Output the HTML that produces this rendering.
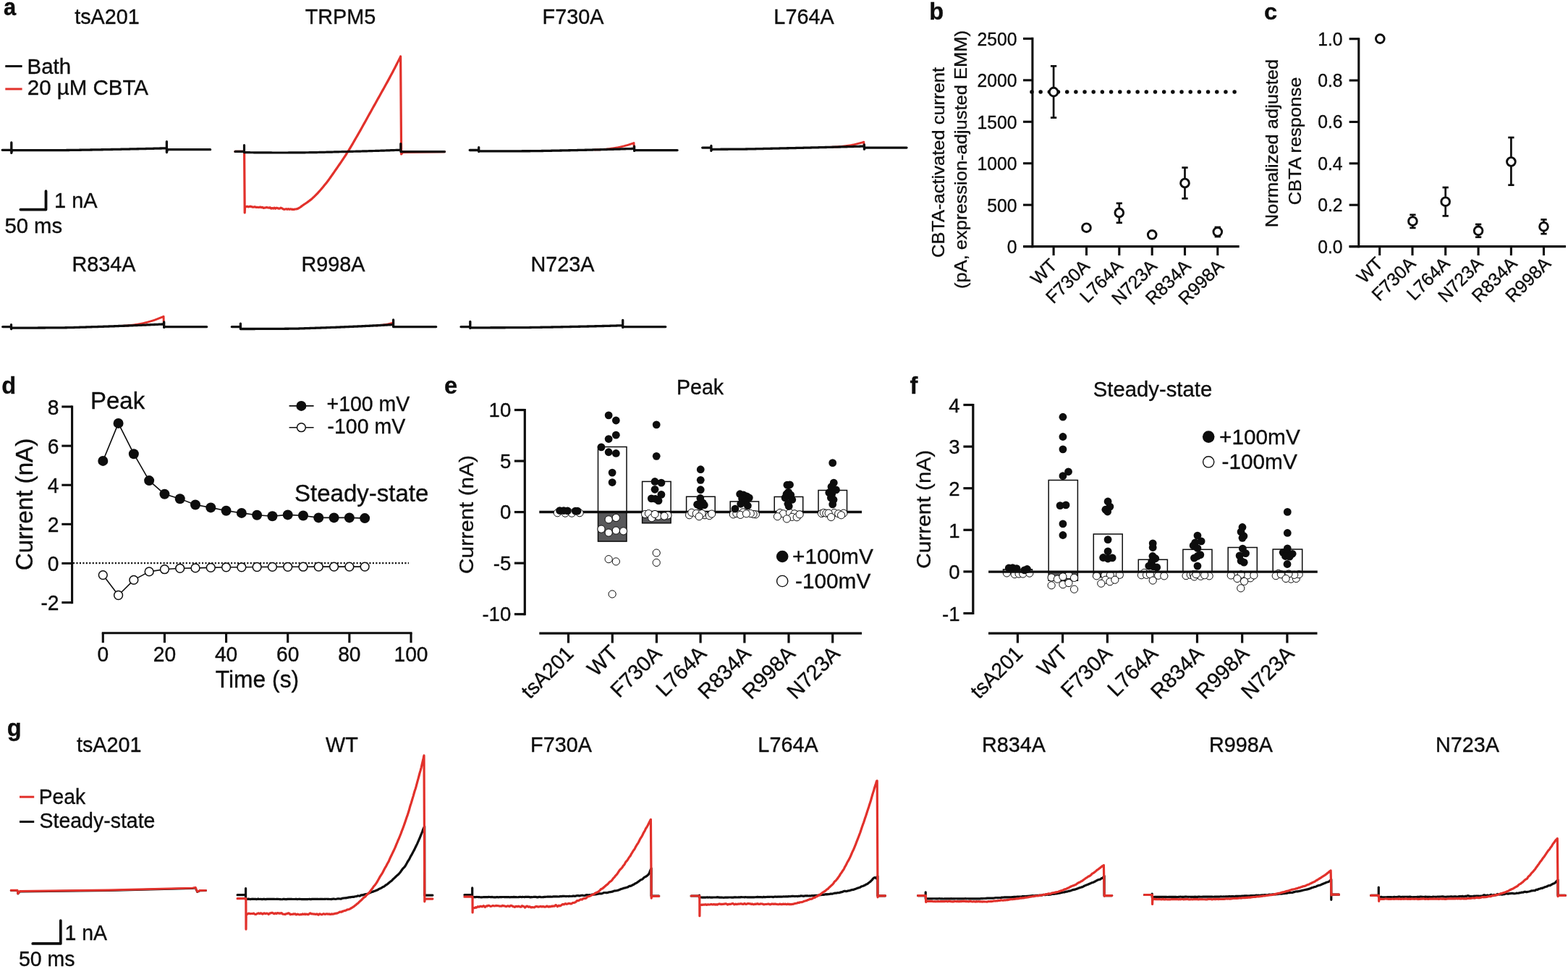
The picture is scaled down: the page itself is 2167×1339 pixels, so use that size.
<!DOCTYPE html>
<html lang="en"><head><meta charset="utf-8"><title>Figure</title>
<style>
html,body{margin:0;padding:0;background:#fff;}
body{width:2167px;height:1339px;overflow:hidden;}
svg{display:block;font-family:'Liberation Sans', sans-serif;fill:#0d0d0d;}
text{stroke:#0d0d0d;stroke-width:0.35px;}
</style></head><body>
<svg width="2167" height="1339" viewBox="0 0 2167 1339">
<g id="panel-a">
<text transform="translate(5 21.3) scale(1 1.07)" font-weight="bold" font-size="30.8">a</text>
<text transform="translate(148 32.7) scale(1 1.02)" text-anchor="middle" font-size="28.8">tsA201</text>
<text transform="translate(470.5 33) scale(1 1.02)" text-anchor="middle" font-size="28.8">TRPM5</text>
<text transform="translate(792 33) scale(1 1.02)" text-anchor="middle" font-size="28.8">F730A</text>
<text transform="translate(1111 33) scale(1 1.02)" text-anchor="middle" font-size="28.8">L764A</text>
<text transform="translate(143.5 375.3) scale(1 1.02)" text-anchor="middle" font-size="28.8">R834A</text>
<text transform="translate(460.5 375.3) scale(1 1.02)" text-anchor="middle" font-size="28.8">R998A</text>
<text transform="translate(777.5 375.3) scale(1 1.02)" text-anchor="middle" font-size="28.8">N723A</text>
<line x1="7.3" y1="91.5" x2="30.6" y2="91.5" stroke="#0d0d0d" stroke-width="3"/>
<text transform="translate(37.6 101.9) scale(1 1.02)" font-size="29.4">Bath</text>
<line x1="7.3" y1="123" x2="30.6" y2="123" stroke="#e2312b" stroke-width="3"/>
<text transform="translate(37.8 131.2) scale(1 1.02)" font-size="29.5">20 µM CBTA</text>
<polyline points="28.4,289.6 63.5,289.6 63.5,264.2" fill="none" stroke="#0d0d0d" stroke-width="3.8" stroke-linejoin="round" stroke-linecap="round"/>
<text transform="translate(75 287.2) scale(1 1.02)" font-size="29">1 nA</text>
<text transform="translate(6.4 321.5) scale(1 1.02)" font-size="29.3">50 ms</text>
<polyline points="3.2,207.3 15.8,207.3 15.8,197 15.8,211.4 16.6,207.7 15.8,207.7 17.3,207.7 18.8,207.7 20.3,207.7 21.8,207.7 23.3,207.7 24.8,207.7 26.3,207.7 27.8,207.7 29.3,207.69 30.8,207.69 32.3,207.69 33.8,207.69 35.3,207.69 36.8,207.69 38.3,207.68 39.8,207.68 41.3,207.68 42.8,207.68 44.3,207.68 45.8,207.67 47.3,207.67 48.8,207.67 50.3,207.66 51.8,207.66 53.3,207.66 54.8,207.65 56.3,207.65 57.8,207.65 59.3,207.64 60.8,207.64 62.3,207.64 63.8,207.63 65.3,207.63 66.8,207.62 68.3,207.62 69.8,207.61 71.3,207.61 72.8,207.6 74.3,207.6 75.8,207.59 77.3,207.59 78.8,207.58 80.3,207.58 81.8,207.57 83.3,207.57 84.8,207.56 86.3,207.56 87.8,207.55 89.3,207.54 90.8,207.53 92.3,207.52 93.8,207.5 95.3,207.48 96.8,207.47 98.3,207.45 99.8,207.42 101.3,207.4 102.8,207.38 104.3,207.36 105.8,207.33 107.3,207.31 108.8,207.28 110.3,207.26 111.8,207.23 113.3,207.21 114.8,207.18 116.3,207.16 117.8,207.13 119.3,207.11 120.8,207.08 122.3,207.06 123.8,207.04 125.3,207.01 126.8,206.99 128.3,206.96 129.8,206.94 131.3,206.91 132.8,206.89 134.3,206.86 135.8,206.83 137.3,206.81 138.8,206.78 140.3,206.76 141.8,206.73 143.3,206.7 144.8,206.68 146.3,206.65 147.8,206.62 149.3,206.59 150.8,206.57 152.3,206.54 153.8,206.51 155.3,206.48 156.8,206.45 158.3,206.43 159.8,206.4 161.3,206.37 162.8,206.34 164.3,206.31 165.8,206.28 167.3,206.25 168.8,206.22 170.3,206.19 171.8,206.16 173.3,206.13 174.8,206.1 176.3,206.06 177.8,206.03 179.3,206 180.8,205.97 182.3,205.94 183.8,205.9 185.3,205.87 186.8,205.84 188.3,205.81 189.8,205.77 191.3,205.74 192.8,205.71 194.3,205.67 195.8,205.64 197.3,205.6 198.8,205.57 200.3,205.53 201.8,205.5 203.3,205.46 204.8,205.43 206.3,205.39 207.8,205.36 209.3,205.32 210.8,205.28 212.3,205.25 213.8,205.21 215.3,205.17 216.8,205.14 218.3,205.1 219.8,205.06 221.3,205.02 222.8,204.98 224.3,204.94 225.8,204.91 227.3,204.87 228.8,204.83 229.8,204.8 230.4,204.8 230.4,195.6 230.4,210.5 231.4,206.7 290.6,206.7" fill="none" stroke="#0d0d0d" stroke-width="3.3" stroke-linejoin="round" stroke-linecap="round"/>
<polyline points="325,209.4 337.6,209.4 338.2,294 338.6,285.42 340.1,285.68 341.6,285.16 343.1,285.92 344.6,285.55 346.1,285.16 347.6,285.62 349.1,286.19 350.6,286.16 352.1,285.65 353.6,286.43 355.1,286.22 356.6,286.49 358.1,286.53 359.6,286.01 361.1,286.68 362.6,286.37 364.1,287.31 365.6,287.05 367.1,286.86 368.6,286.53 370.1,287.03 371.6,287.16 373.1,286.7 374.6,288.16 376.1,287.52 377.6,288.14 379.1,287.11 380.6,288.31 382.1,287.21 383.6,287.59 385.1,288.17 386.6,288.08 388.1,287.22 389.6,287.83 391.1,288.72 392.6,289.36 394.1,289.04 395.6,288.71 397.1,289.29 398.6,288.65 400.1,289.41 401.6,288.74 403.1,289.3 404.6,289.22 406.1,289.53 407.6,288.99 409.1,288.99 410.6,288.67 412.1,288.05 413.6,287.21 415.1,286.21 416.6,285.12 418.1,284.01 419.6,282.96 421.1,281.98 422.6,280.98 424.1,279.95 425.6,278.89 427.1,277.78 428.6,276.62 430.1,275.41 431.6,274.15 433.1,272.82 434.6,271.41 436.1,269.94 437.6,268.4 439.1,266.8 440.6,265.15 442.1,263.45 443.6,261.72 445.1,259.95 446.6,258.15 448.1,256.33 449.6,254.49 451.1,252.63 452.6,250.69 454.1,248.69 455.6,246.64 457.1,244.55 458.6,242.43 460.1,240.28 461.6,238.11 463.1,235.94 464.6,233.78 466.1,231.62 467.6,229.45 469.1,227.27 470.6,225.08 472.1,222.87 473.6,220.64 475.1,218.39 476.6,216.1 478.1,213.78 479.6,211.43 481.1,209.04 482.6,206.6 484.1,204.12 485.6,201.61 487.1,199.07 488.6,196.5 490.1,193.91 491.6,191.31 493.1,188.71 494.6,186.1 496.1,183.48 497.6,180.84 499.1,178.18 500.6,175.5 502.1,172.81 503.6,170.12 505.1,167.41 506.6,164.71 508.1,162.01 509.6,159.32 511.1,156.63 512.6,153.95 514.1,151.26 515.6,148.57 517.1,145.89 518.6,143.2 520.1,140.51 521.6,137.81 523.1,135.12 524.6,132.42 526.1,129.72 527.6,127.04 529.1,124.36 530.6,121.69 532.1,119.01 533.6,116.32 535.1,113.61 536.6,110.89 538.1,108.13 539.6,105.35 541.1,102.53 542.6,99.68 544.1,96.81 545.6,93.92 547.1,91 548.6,88.06 550.1,85.1 551.6,82.11 553.1,79.1 553.4,78.5 553.6,78 554.6,213 556.5,210.5 614.5,209.6" fill="none" stroke="#e2312b" stroke-width="3.2" stroke-linejoin="round" stroke-linecap="round"/>
<polyline points="325,209.4 337.5,209.4 337.5,200.6 337.5,210.6 337.5,210.6 339,210.62 340.5,210.65 342,210.67 343.5,210.69 345,210.71 346.5,210.73 348,210.75 349.5,210.77 351,210.79 352.5,210.81 354,210.82 355.5,210.84 357,210.85 358.5,210.87 360,210.88 361.5,210.89 363,210.9 364.5,210.92 366,210.93 367.5,210.93 369,210.94 370.5,210.95 372,210.96 373.5,210.97 375,210.97 376.5,210.98 378,210.98 379.5,210.99 381,210.99 382.5,210.99 384,211 385.5,211 387,211 388.5,211 390,211 391.5,211 393,211 394.5,210.99 396,210.99 397.5,210.98 399,210.97 400.5,210.97 402,210.96 403.5,210.95 405,210.94 406.5,210.92 408,210.91 409.5,210.9 411,210.89 412.5,210.87 414,210.86 415.5,210.84 417,210.83 418.5,210.81 420,210.8 421.5,210.78 423,210.77 424.5,210.75 426,210.73 427.5,210.71 429,210.69 430.5,210.66 432,210.64 433.5,210.61 435,210.58 436.5,210.56 438,210.53 439.5,210.5 441,210.47 442.5,210.43 444,210.4 445.5,210.37 447,210.33 448.5,210.3 450,210.26 451.5,210.22 453,210.19 454.5,210.15 456,210.11 457.5,210.08 459,210.04 460.5,210 462,209.96 463.5,209.92 465,209.88 466.5,209.84 468,209.8 469.5,209.77 471,209.73 472.5,209.69 474,209.65 475.5,209.61 477,209.57 478.5,209.54 480,209.5 481.5,209.46 483,209.43 484.5,209.39 486,209.35 487.5,209.31 489,209.27 490.5,209.24 492,209.2 493.5,209.16 495,209.12 496.5,209.08 498,209.04 499.5,209 501,208.96 502.5,208.91 504,208.87 505.5,208.83 507,208.79 508.5,208.74 510,208.7 511.5,208.66 513,208.61 514.5,208.57 516,208.52 517.5,208.48 519,208.43 520.5,208.38 522,208.34 523.5,208.29 525,208.24 526.5,208.19 528,208.14 529.5,208.09 531,208.04 532.5,207.99 534,207.94 535.5,207.88 537,207.83 538.5,207.78 540,207.72 541.5,207.67 543,207.61 544.5,207.56 546,207.5 547.5,207.44 549,207.39 550.5,207.33 552,207.27 553.5,207.21 553.8,207.2 553.8,198.6 553.8,209.6 614.5,209.6" fill="none" stroke="#0d0d0d" stroke-width="3.2" stroke-linejoin="round" stroke-linecap="round"/>
<polyline points="822,206.94 824.25,206.87 826.5,206.8 828.75,206.7 831,206.58 833.25,206.43 835.5,206.26 837.75,206.07 840,205.84 842.25,205.59 844.5,205.3 846.75,204.98 849,204.63 851.25,204.25 853.5,203.83 855.75,203.37 858,202.88 860.25,202.36 862.5,201.79 864.75,201.19 867,200.55 869.25,199.88 871.5,199.16 873.75,198.4 876,197.6 876.2,205.4" fill="none" stroke="#e2312b" stroke-width="2.9" stroke-linejoin="round" stroke-linecap="round"/>
<polyline points="649.2,207.5 661.7,207.5 661.7,203.6 661.7,209.6 662.5,208.9 661.7,208.9 663.2,208.9 664.7,208.9 666.2,208.9 667.7,208.9 669.2,208.9 670.7,208.9 672.2,208.9 673.7,208.89 675.2,208.89 676.7,208.89 678.2,208.89 679.7,208.89 681.2,208.89 682.7,208.88 684.2,208.88 685.7,208.88 687.2,208.88 688.7,208.87 690.2,208.87 691.7,208.87 693.2,208.86 694.7,208.86 696.2,208.86 697.7,208.85 699.2,208.85 700.7,208.84 702.2,208.84 703.7,208.84 705.2,208.83 706.7,208.83 708.2,208.82 709.7,208.82 711.2,208.81 712.7,208.81 714.2,208.8 715.7,208.8 717.2,208.79 718.7,208.78 720.2,208.78 721.7,208.77 723.2,208.77 724.7,208.76 726.2,208.75 727.7,208.75 729.2,208.74 730.7,208.73 732.2,208.73 733.7,208.72 735.2,208.71 736.7,208.69 738.2,208.68 739.7,208.66 741.2,208.64 742.7,208.62 744.2,208.59 745.7,208.57 747.2,208.54 748.7,208.52 750.2,208.49 751.7,208.46 753.2,208.43 754.7,208.4 756.2,208.37 757.7,208.34 759.2,208.31 760.7,208.28 762.2,208.25 763.7,208.22 765.2,208.19 766.7,208.16 768.2,208.13 769.7,208.1 771.2,208.07 772.7,208.04 774.2,208.01 775.7,207.98 777.2,207.95 778.7,207.92 780.2,207.89 781.7,207.86 783.2,207.83 784.7,207.8 786.2,207.76 787.7,207.73 789.2,207.7 790.7,207.67 792.2,207.64 793.7,207.6 795.2,207.57 796.7,207.54 798.2,207.5 799.7,207.47 801.2,207.43 802.7,207.4 804.2,207.37 805.7,207.33 807.2,207.3 808.7,207.26 810.2,207.23 811.7,207.19 813.2,207.15 814.7,207.12 816.2,207.08 817.7,207.04 819.2,207.01 820.7,206.97 822.2,206.93 823.7,206.89 825.2,206.86 826.7,206.82 828.2,206.78 829.7,206.74 831.2,206.7 832.7,206.66 834.2,206.62 835.7,206.58 837.2,206.54 838.7,206.5 840.2,206.46 841.7,206.42 843.2,206.38 844.7,206.34 846.2,206.29 847.7,206.25 849.2,206.21 850.7,206.17 852.2,206.12 853.7,206.08 855.2,206.04 856.7,205.99 858.2,205.95 859.7,205.9 861.2,205.86 862.7,205.81 864.2,205.77 865.7,205.72 867.2,205.68 868.7,205.63 870.2,205.58 871.7,205.54 873.2,205.49 874.7,205.44 876,205.4 876.6,205.4 876.6,202.2 876.6,208.4 877.6,207.6 936.1,207.6" fill="none" stroke="#0d0d0d" stroke-width="3.3" stroke-linejoin="round" stroke-linecap="round"/>
<polyline points="1147,203.35 1148.95,203.3 1150.9,203.24 1152.85,203.16 1154.8,203.06 1156.75,202.94 1158.7,202.81 1160.65,202.66 1162.6,202.48 1164.55,202.28 1166.5,202.06 1168.45,201.81 1170.4,201.55 1172.35,201.25 1174.3,200.93 1176.25,200.58 1178.2,200.21 1180.15,199.81 1182.1,199.38 1184.05,198.92 1186,198.44 1187.95,197.92 1189.9,197.38 1191.85,196.81 1193.8,196.2 1194,202.1" fill="none" stroke="#e2312b" stroke-width="2.9" stroke-linejoin="round" stroke-linecap="round"/>
<polyline points="970.7,204.1 982.9,204.1 982.9,201.4 982.9,208.4 983.7,206.3 982.9,206.3 984.4,206.3 985.9,206.3 987.4,206.3 988.9,206.29 990.4,206.29 991.9,206.29 993.4,206.28 994.9,206.28 996.4,206.27 997.9,206.27 999.4,206.26 1000.9,206.25 1002.4,206.25 1003.9,206.24 1005.4,206.23 1006.9,206.22 1008.4,206.21 1009.9,206.2 1011.4,206.19 1012.9,206.18 1014.4,206.17 1015.9,206.16 1017.4,206.15 1018.9,206.14 1020.4,206.13 1021.9,206.12 1023.4,206.1 1024.9,206.09 1026.4,206.08 1027.9,206.06 1029.4,206.04 1030.9,206.02 1032.4,206 1033.9,205.97 1035.4,205.94 1036.9,205.91 1038.4,205.88 1039.9,205.85 1041.4,205.82 1042.9,205.78 1044.4,205.75 1045.9,205.71 1047.4,205.68 1048.9,205.64 1050.4,205.6 1051.9,205.57 1053.4,205.53 1054.9,205.5 1056.4,205.47 1057.9,205.43 1059.4,205.4 1060.9,205.37 1062.4,205.34 1063.9,205.3 1065.4,205.27 1066.9,205.24 1068.4,205.21 1069.9,205.17 1071.4,205.14 1072.9,205.11 1074.4,205.07 1075.9,205.04 1077.4,205.01 1078.9,204.97 1080.4,204.94 1081.9,204.91 1083.4,204.87 1084.9,204.84 1086.4,204.81 1087.9,204.77 1089.4,204.74 1090.9,204.7 1092.4,204.67 1093.9,204.64 1095.4,204.6 1096.9,204.57 1098.4,204.53 1099.9,204.5 1101.4,204.46 1102.9,204.43 1104.4,204.39 1105.9,204.36 1107.4,204.32 1108.9,204.29 1110.4,204.25 1111.9,204.22 1113.4,204.18 1114.9,204.14 1116.4,204.11 1117.9,204.07 1119.4,204.04 1120.9,204 1122.4,203.96 1123.9,203.93 1125.4,203.89 1126.9,203.86 1128.4,203.82 1129.9,203.78 1131.4,203.75 1132.9,203.71 1134.4,203.67 1135.9,203.63 1137.4,203.6 1138.9,203.56 1140.4,203.52 1141.9,203.48 1143.4,203.45 1144.9,203.41 1146.4,203.37 1147.9,203.33 1149.4,203.29 1150.9,203.25 1152.4,203.22 1153.9,203.18 1155.4,203.14 1156.9,203.1 1158.4,203.06 1159.9,203.02 1161.4,202.98 1162.9,202.94 1164.4,202.9 1165.9,202.86 1167.4,202.82 1168.9,202.78 1170.4,202.74 1171.9,202.7 1173.4,202.66 1174.9,202.62 1176.4,202.58 1177.9,202.54 1179.4,202.5 1180.9,202.46 1182.4,202.42 1183.9,202.38 1185.4,202.33 1186.9,202.29 1188.4,202.25 1189.9,202.21 1191.4,202.17 1192.9,202.13 1193.8,202.1 1194.4,202.1 1194.4,200 1194.4,206.2 1195.4,204.1 1253,204.1" fill="none" stroke="#0d0d0d" stroke-width="3.3" stroke-linejoin="round" stroke-linecap="round"/>
<polyline points="165,450.48 167.55,450.38 170.09,450.26 172.64,450.11 175.18,449.93 177.73,449.72 180.28,449.47 182.82,449.18 185.37,448.85 187.91,448.49 190.46,448.08 193,447.63 195.55,447.13 198.1,446.59 200.64,446 203.19,445.36 205.73,444.67 208.28,443.93 210.82,443.14 213.37,442.3 215.92,441.41 218.46,440.47 221.01,439.47 223.55,438.41 226.1,437.3 226.3,447.9" fill="none" stroke="#e2312b" stroke-width="2.9" stroke-linejoin="round" stroke-linecap="round"/>
<polyline points="3.7,451.6 15.5,451.6 15.5,448.6 15.5,454.6 16.3,453.1 15.5,453.1 17,453.1 18.5,453.1 20,453.1 21.5,453.1 23,453.1 24.5,453.1 26,453.09 27.5,453.09 29,453.09 30.5,453.09 32,453.08 33.5,453.08 35,453.08 36.5,453.07 38,453.07 39.5,453.07 41,453.06 42.5,453.06 44,453.05 45.5,453.05 47,453.04 48.5,453.04 50,453.03 51.5,453.03 53,453.02 54.5,453.01 56,453.01 57.5,453 59,452.99 60.5,452.99 62,452.98 63.5,452.97 65,452.96 66.5,452.96 68,452.95 69.5,452.94 71,452.93 72.5,452.92 74,452.91 75.5,452.9 77,452.89 78.5,452.88 80,452.87 81.5,452.86 83,452.85 84.5,452.84 86,452.83 87.5,452.82 89,452.8 90.5,452.77 92,452.75 93.5,452.72 95,452.68 96.5,452.65 98,452.61 99.5,452.57 101,452.53 102.5,452.49 104,452.44 105.5,452.4 107,452.35 108.5,452.31 110,452.26 111.5,452.21 113,452.17 114.5,452.12 116,452.08 117.5,452.03 119,451.99 120.5,451.95 122,451.9 123.5,451.86 125,451.81 126.5,451.77 128,451.72 129.5,451.68 131,451.63 132.5,451.58 134,451.54 135.5,451.49 137,451.44 138.5,451.39 140,451.34 141.5,451.3 143,451.25 144.5,451.2 146,451.15 147.5,451.1 149,451.05 150.5,451 152,450.94 153.5,450.89 155,450.84 156.5,450.79 158,450.73 159.5,450.68 161,450.63 162.5,450.57 164,450.52 165.5,450.46 167,450.41 168.5,450.35 170,450.3 171.5,450.24 173,450.18 174.5,450.13 176,450.07 177.5,450.01 179,449.95 180.5,449.89 182,449.83 183.5,449.78 185,449.72 186.5,449.65 188,449.59 189.5,449.53 191,449.47 192.5,449.41 194,449.35 195.5,449.28 197,449.22 198.5,449.16 200,449.09 201.5,449.03 203,448.96 204.5,448.9 206,448.83 207.5,448.76 209,448.7 210.5,448.63 212,448.56 213.5,448.49 215,448.42 216.5,448.35 218,448.28 219.5,448.21 221,448.14 222.5,448.07 224,448 225.5,447.93 226.1,447.9 226.7,447.9 226.7,445 226.7,452.4 227.7,451.6 285.7,451.6" fill="none" stroke="#0d0d0d" stroke-width="3.3" stroke-linejoin="round" stroke-linecap="round"/>
<polyline points="520,449.8 520.96,449.75 521.92,449.7 522.88,449.64 523.83,449.57 524.79,449.49 525.75,449.41 526.71,449.32 527.67,449.22 528.62,449.11 529.58,448.99 530.54,448.87 531.5,448.73 532.46,448.58 533.42,448.42 534.38,448.25 535.33,448.07 536.29,447.88 537.25,447.67 538.21,447.46 539.17,447.23 540.12,446.99 541.08,446.74 542.04,446.48 543,446.2 543.2,448.6" fill="none" stroke="#e2312b" stroke-width="2.9" stroke-linejoin="round" stroke-linecap="round"/>
<polyline points="320.3,451.6 332.4,451.6 332.4,447.2 332.4,454.6 333.2,454.5 332.4,454.5 333.9,454.5 335.4,454.5 336.9,454.5 338.4,454.5 339.9,454.5 341.4,454.49 342.9,454.49 344.4,454.49 345.9,454.49 347.4,454.49 348.9,454.48 350.4,454.48 351.9,454.48 353.4,454.47 354.9,454.47 356.4,454.46 357.9,454.46 359.4,454.45 360.9,454.45 362.4,454.44 363.9,454.44 365.4,454.43 366.9,454.42 368.4,454.42 369.9,454.41 371.4,454.4 372.9,454.4 374.4,454.39 375.9,454.38 377.4,454.37 378.9,454.36 380.4,454.36 381.9,454.35 383.4,454.34 384.9,454.33 386.4,454.32 387.9,454.31 389.4,454.3 390.9,454.29 392.4,454.28 393.9,454.27 395.4,454.26 396.9,454.24 398.4,454.23 399.9,454.22 401.4,454.21 402.9,454.2 404.4,454.18 405.9,454.16 407.4,454.13 408.9,454.1 410.4,454.06 411.9,454.03 413.4,453.99 414.9,453.95 416.4,453.9 417.9,453.85 419.4,453.8 420.9,453.75 422.4,453.7 423.9,453.65 425.4,453.6 426.9,453.55 428.4,453.49 429.9,453.44 431.4,453.39 432.9,453.34 434.4,453.29 435.9,453.24 437.4,453.19 438.9,453.14 440.4,453.09 441.9,453.04 443.4,452.99 444.9,452.94 446.4,452.88 447.9,452.83 449.4,452.78 450.9,452.73 452.4,452.67 453.9,452.62 455.4,452.56 456.9,452.51 458.4,452.45 459.9,452.4 461.4,452.34 462.9,452.28 464.4,452.23 465.9,452.17 467.4,452.11 468.9,452.05 470.4,451.99 471.9,451.94 473.4,451.88 474.9,451.82 476.4,451.76 477.9,451.69 479.4,451.63 480.9,451.57 482.4,451.51 483.9,451.45 485.4,451.38 486.9,451.32 488.4,451.26 489.9,451.19 491.4,451.13 492.9,451.06 494.4,451 495.9,450.93 497.4,450.86 498.9,450.8 500.4,450.73 501.9,450.66 503.4,450.59 504.9,450.52 506.4,450.45 507.9,450.38 509.4,450.31 510.9,450.24 512.4,450.17 513.9,450.1 515.4,450.02 516.9,449.95 518.4,449.88 519.9,449.8 521.4,449.73 522.9,449.65 524.4,449.58 525.9,449.5 527.4,449.43 528.9,449.35 530.4,449.27 531.9,449.19 533.4,449.12 534.9,449.04 536.4,448.96 537.9,448.88 539.4,448.8 540.9,448.71 542.4,448.63 543,448.6 543.6,448.6 543.6,442 543.6,451.6 544.6,451.6 602.7,451.6" fill="none" stroke="#0d0d0d" stroke-width="3.3" stroke-linejoin="round" stroke-linecap="round"/>
<polyline points="637,451.6 649.8,451.6 649.8,444.3 649.8,453.5 650.6,452.8 649.8,452.8 651.3,452.8 652.8,452.8 654.3,452.8 655.8,452.8 657.3,452.8 658.8,452.8 660.3,452.8 661.8,452.8 663.3,452.79 664.8,452.79 666.3,452.79 667.8,452.79 669.3,452.79 670.8,452.79 672.3,452.78 673.8,452.78 675.3,452.78 676.8,452.78 678.3,452.77 679.8,452.77 681.3,452.77 682.8,452.76 684.3,452.76 685.8,452.76 687.3,452.75 688.8,452.75 690.3,452.75 691.8,452.74 693.3,452.74 694.8,452.74 696.3,452.73 697.8,452.73 699.3,452.72 700.8,452.72 702.3,452.71 703.8,452.71 705.3,452.7 706.8,452.7 708.3,452.69 709.8,452.69 711.3,452.68 712.8,452.68 714.3,452.67 715.8,452.66 717.3,452.66 718.8,452.65 720.3,452.64 721.8,452.64 723.3,452.62 724.8,452.61 726.3,452.59 727.8,452.58 729.3,452.56 730.8,452.54 732.3,452.52 733.8,452.49 735.3,452.47 736.8,452.44 738.3,452.42 739.8,452.39 741.3,452.37 742.8,452.34 744.3,452.31 745.8,452.29 747.3,452.26 748.8,452.23 750.3,452.21 751.8,452.18 753.3,452.16 754.8,452.13 756.3,452.11 757.8,452.08 759.3,452.05 760.8,452.03 762.3,452 763.8,451.98 765.3,451.95 766.8,451.92 768.3,451.89 769.8,451.87 771.3,451.84 772.8,451.81 774.3,451.78 775.8,451.76 777.3,451.73 778.8,451.7 780.3,451.67 781.8,451.64 783.3,451.61 784.8,451.58 786.3,451.55 787.8,451.52 789.3,451.49 790.8,451.46 792.3,451.43 793.8,451.4 795.3,451.37 796.8,451.34 798.3,451.31 799.8,451.27 801.3,451.24 802.8,451.21 804.3,451.18 805.8,451.15 807.3,451.11 808.8,451.08 810.3,451.05 811.8,451.01 813.3,450.98 814.8,450.95 816.3,450.91 817.8,450.88 819.3,450.84 820.8,450.81 822.3,450.77 823.8,450.74 825.3,450.7 826.8,450.66 828.3,450.63 829.8,450.59 831.3,450.55 832.8,450.52 834.3,450.48 835.8,450.44 837.3,450.41 838.8,450.37 840.3,450.33 841.8,450.29 843.3,450.25 844.8,450.21 846.3,450.17 847.8,450.13 849.3,450.09 850.8,450.05 852.3,450.01 853.8,449.97 855.3,449.93 856.8,449.89 858.3,449.85 859.8,449.81 860.1,449.8 860.7,449.8 860.7,442.3 860.7,452.4 861.7,451.6 919.8,451.6" fill="none" stroke="#0d0d0d" stroke-width="3.3" stroke-linejoin="round" stroke-linecap="round"/>
</g>
<g id="panel-b">
<text transform="translate(1284.3 27) scale(1 1.02)" font-weight="bold" font-size="32.6">b</text>
<line x1="1426.9" y1="51.85" x2="1426.9" y2="342.15" stroke="#0d0d0d" stroke-width="3.1"/>
<line x1="1414" y1="340.6" x2="1712.7" y2="340.6" stroke="#0d0d0d" stroke-width="3.1"/>
<line x1="1414" y1="53.4" x2="1426.9" y2="53.4" stroke="#0d0d0d" stroke-width="3.1"/>
<text transform="translate(1405.5 62.8) scale(1 1.02)" text-anchor="end" font-size="24.7">2500</text>
<line x1="1414" y1="110.84" x2="1426.9" y2="110.84" stroke="#0d0d0d" stroke-width="3.1"/>
<text transform="translate(1405.5 120.24) scale(1 1.02)" text-anchor="end" font-size="24.7">2000</text>
<line x1="1414" y1="168.28" x2="1426.9" y2="168.28" stroke="#0d0d0d" stroke-width="3.1"/>
<text transform="translate(1405.5 177.68) scale(1 1.02)" text-anchor="end" font-size="24.7">1500</text>
<line x1="1414" y1="225.72" x2="1426.9" y2="225.72" stroke="#0d0d0d" stroke-width="3.1"/>
<text transform="translate(1405.5 235.12) scale(1 1.02)" text-anchor="end" font-size="24.7">1000</text>
<line x1="1414" y1="283.16" x2="1426.9" y2="283.16" stroke="#0d0d0d" stroke-width="3.1"/>
<text transform="translate(1405.5 292.56) scale(1 1.02)" text-anchor="end" font-size="24.7">500</text>
<line x1="1414" y1="340.6" x2="1426.9" y2="340.6" stroke="#0d0d0d" stroke-width="3.1"/>
<text transform="translate(1405.5 350) scale(1 1.02)" text-anchor="end" font-size="24.7">0</text>
<line x1="1456.1" y1="340.6" x2="1456.1" y2="353" stroke="#0d0d0d" stroke-width="3.1"/>
<text transform="translate(1462.1 368) rotate(-45) scale(1 1.02)" text-anchor="end" font-size="24.8">WT</text>
<line x1="1501.5" y1="340.6" x2="1501.5" y2="353" stroke="#0d0d0d" stroke-width="3.1"/>
<text transform="translate(1507.5 369.2) rotate(-45) scale(1 1.02)" text-anchor="end" font-size="24.8">F730A</text>
<line x1="1546.8" y1="340.6" x2="1546.8" y2="353" stroke="#0d0d0d" stroke-width="3.1"/>
<text transform="translate(1553.5 369.2) rotate(-45) scale(1 1.02)" text-anchor="end" font-size="24.8">L764A</text>
<line x1="1592.2" y1="340.6" x2="1592.2" y2="353" stroke="#0d0d0d" stroke-width="3.1"/>
<text transform="translate(1600.4 369.2) rotate(-45) scale(1 1.02)" text-anchor="end" font-size="24.8">N723A</text>
<line x1="1637.5" y1="340.6" x2="1637.5" y2="353" stroke="#0d0d0d" stroke-width="3.1"/>
<text transform="translate(1647.2 369.2) rotate(-45) scale(1 1.02)" text-anchor="end" font-size="24.8">R834A</text>
<line x1="1682.8" y1="340.6" x2="1682.8" y2="353" stroke="#0d0d0d" stroke-width="3.1"/>
<text transform="translate(1692.7 369.2) rotate(-45) scale(1 1.02)" text-anchor="end" font-size="24.8">R998A</text>
<line x1="1425.97" y1="127.1" x2="1709" y2="127.1" stroke="#0d0d0d" stroke-width="5.5" stroke-linecap="round" stroke-dasharray="0 12.18"/>
<line x1="1456.1" y1="91.3" x2="1456.1" y2="162.6" stroke="#0d0d0d" stroke-width="2.7"/>
<line x1="1451.95" y1="91.3" x2="1460.25" y2="91.3" stroke="#0d0d0d" stroke-width="2.7"/>
<line x1="1451.95" y1="162.6" x2="1460.25" y2="162.6" stroke="#0d0d0d" stroke-width="2.7"/>
<circle cx="1456.1" cy="127.1" r="5.85" fill="#fff" stroke="#0d0d0d" stroke-width="2.9"/>
<circle cx="1501.5" cy="314.7" r="5.85" fill="#fff" stroke="#0d0d0d" stroke-width="2.9"/>
<line x1="1546.8" y1="280.9" x2="1546.8" y2="307.8" stroke="#0d0d0d" stroke-width="2.7"/>
<line x1="1542.65" y1="280.9" x2="1550.95" y2="280.9" stroke="#0d0d0d" stroke-width="2.7"/>
<line x1="1542.65" y1="307.8" x2="1550.95" y2="307.8" stroke="#0d0d0d" stroke-width="2.7"/>
<circle cx="1546.8" cy="294" r="5.85" fill="#fff" stroke="#0d0d0d" stroke-width="2.9"/>
<line x1="1592.2" y1="319.5" x2="1592.2" y2="329" stroke="#0d0d0d" stroke-width="2.7"/>
<line x1="1588.05" y1="319.5" x2="1596.35" y2="319.5" stroke="#0d0d0d" stroke-width="2.7"/>
<line x1="1588.05" y1="329" x2="1596.35" y2="329" stroke="#0d0d0d" stroke-width="2.7"/>
<circle cx="1592.2" cy="324.3" r="5.85" fill="#fff" stroke="#0d0d0d" stroke-width="2.9"/>
<line x1="1637.5" y1="231.6" x2="1637.5" y2="274.3" stroke="#0d0d0d" stroke-width="2.7"/>
<line x1="1633.35" y1="231.6" x2="1641.65" y2="231.6" stroke="#0d0d0d" stroke-width="2.7"/>
<line x1="1633.35" y1="274.3" x2="1641.65" y2="274.3" stroke="#0d0d0d" stroke-width="2.7"/>
<circle cx="1637.5" cy="253" r="5.85" fill="#fff" stroke="#0d0d0d" stroke-width="2.9"/>
<line x1="1682.8" y1="314" x2="1682.8" y2="327" stroke="#0d0d0d" stroke-width="2.7"/>
<line x1="1678.65" y1="314" x2="1686.95" y2="314" stroke="#0d0d0d" stroke-width="2.7"/>
<line x1="1678.65" y1="327" x2="1686.95" y2="327" stroke="#0d0d0d" stroke-width="2.7"/>
<circle cx="1682.8" cy="320.3" r="5.85" fill="#fff" stroke="#0d0d0d" stroke-width="2.9"/>
<text transform="translate(1304.7 224.5) rotate(-90) scale(1 0.94)" text-anchor="middle" font-size="25.5">CBTA-activated current</text>
<text transform="translate(1336.2 220.5) rotate(-90) scale(1 0.94)" text-anchor="middle" font-size="25.5">(pA, expression-adjusted EMM)</text>
</g>
<g id="panel-c">
<text transform="translate(1747 27) scale(1 0.95)" font-weight="bold" font-size="32.6">c</text>
<line x1="1877.8" y1="52.15" x2="1877.8" y2="342.15" stroke="#0d0d0d" stroke-width="3.1"/>
<line x1="1864.6" y1="340.6" x2="2164" y2="340.6" stroke="#0d0d0d" stroke-width="3.1"/>
<line x1="1864.6" y1="53.7" x2="1877.8" y2="53.7" stroke="#0d0d0d" stroke-width="3.1"/>
<text transform="translate(1855.5 62.7) scale(1 1.02)" text-anchor="end" font-size="24.7">1.0</text>
<line x1="1864.6" y1="111.08" x2="1877.8" y2="111.08" stroke="#0d0d0d" stroke-width="3.1"/>
<text transform="translate(1855.5 120.08) scale(1 1.02)" text-anchor="end" font-size="24.7">0.8</text>
<line x1="1864.6" y1="168.46" x2="1877.8" y2="168.46" stroke="#0d0d0d" stroke-width="3.1"/>
<text transform="translate(1855.5 177.46) scale(1 1.02)" text-anchor="end" font-size="24.7">0.6</text>
<line x1="1864.6" y1="225.84" x2="1877.8" y2="225.84" stroke="#0d0d0d" stroke-width="3.1"/>
<text transform="translate(1855.5 234.84) scale(1 1.02)" text-anchor="end" font-size="24.7">0.4</text>
<line x1="1864.6" y1="283.22" x2="1877.8" y2="283.22" stroke="#0d0d0d" stroke-width="3.1"/>
<text transform="translate(1855.5 292.22) scale(1 1.02)" text-anchor="end" font-size="24.7">0.2</text>
<line x1="1864.6" y1="340.6" x2="1877.8" y2="340.6" stroke="#0d0d0d" stroke-width="3.1"/>
<text transform="translate(1855.5 349.6) scale(1 1.02)" text-anchor="end" font-size="24.7">0.0</text>
<line x1="1906.7" y1="340.6" x2="1906.7" y2="353" stroke="#0d0d0d" stroke-width="3.1"/>
<text transform="translate(1912.7 365.7) rotate(-45) scale(1 1.02)" text-anchor="end" font-size="24.8">WT</text>
<line x1="1952" y1="340.6" x2="1952" y2="353" stroke="#0d0d0d" stroke-width="3.1"/>
<text transform="translate(1958 365.7) rotate(-45) scale(1 1.02)" text-anchor="end" font-size="24.8">F730A</text>
<line x1="1997.7" y1="340.6" x2="1997.7" y2="353" stroke="#0d0d0d" stroke-width="3.1"/>
<text transform="translate(2005.2 365.7) rotate(-45) scale(1 1.02)" text-anchor="end" font-size="24.8">L764A</text>
<line x1="2043.1" y1="340.6" x2="2043.1" y2="353" stroke="#0d0d0d" stroke-width="3.1"/>
<text transform="translate(2051.3 365.7) rotate(-45) scale(1 1.02)" text-anchor="end" font-size="24.8">N723A</text>
<line x1="2088.4" y1="340.6" x2="2088.4" y2="353" stroke="#0d0d0d" stroke-width="3.1"/>
<text transform="translate(2098.1 365.7) rotate(-45) scale(1 1.02)" text-anchor="end" font-size="24.8">R834A</text>
<line x1="2133.5" y1="340.6" x2="2133.5" y2="353" stroke="#0d0d0d" stroke-width="3.1"/>
<text transform="translate(2144.7 365.7) rotate(-45) scale(1 1.02)" text-anchor="end" font-size="24.8">R998A</text>
<circle cx="1907.3" cy="53.6" r="5.85" fill="#fff" stroke="#0d0d0d" stroke-width="2.9"/>
<line x1="1952.4" y1="296.8" x2="1952.4" y2="314.9" stroke="#0d0d0d" stroke-width="2.7"/>
<line x1="1948.25" y1="296.8" x2="1956.55" y2="296.8" stroke="#0d0d0d" stroke-width="2.7"/>
<line x1="1948.25" y1="314.9" x2="1956.55" y2="314.9" stroke="#0d0d0d" stroke-width="2.7"/>
<circle cx="1952.4" cy="305.7" r="5.85" fill="#fff" stroke="#0d0d0d" stroke-width="2.9"/>
<line x1="1997.7" y1="259" x2="1997.7" y2="298.4" stroke="#0d0d0d" stroke-width="2.7"/>
<line x1="1993.55" y1="259" x2="2001.85" y2="259" stroke="#0d0d0d" stroke-width="2.7"/>
<line x1="1993.55" y1="298.4" x2="2001.85" y2="298.4" stroke="#0d0d0d" stroke-width="2.7"/>
<circle cx="1997.7" cy="278.7" r="5.85" fill="#fff" stroke="#0d0d0d" stroke-width="2.9"/>
<line x1="2043.1" y1="310" x2="2043.1" y2="327.7" stroke="#0d0d0d" stroke-width="2.7"/>
<line x1="2038.95" y1="310" x2="2047.25" y2="310" stroke="#0d0d0d" stroke-width="2.7"/>
<line x1="2038.95" y1="327.7" x2="2047.25" y2="327.7" stroke="#0d0d0d" stroke-width="2.7"/>
<circle cx="2043.1" cy="318.8" r="5.85" fill="#fff" stroke="#0d0d0d" stroke-width="2.9"/>
<line x1="2088.4" y1="190" x2="2088.4" y2="255.7" stroke="#0d0d0d" stroke-width="2.7"/>
<line x1="2084.25" y1="190" x2="2092.55" y2="190" stroke="#0d0d0d" stroke-width="2.7"/>
<line x1="2084.25" y1="255.7" x2="2092.55" y2="255.7" stroke="#0d0d0d" stroke-width="2.7"/>
<circle cx="2088.4" cy="223.5" r="5.85" fill="#fff" stroke="#0d0d0d" stroke-width="2.9"/>
<line x1="2133.5" y1="303.4" x2="2133.5" y2="323.1" stroke="#0d0d0d" stroke-width="2.7"/>
<line x1="2129.35" y1="303.4" x2="2137.65" y2="303.4" stroke="#0d0d0d" stroke-width="2.7"/>
<line x1="2129.35" y1="323.1" x2="2137.65" y2="323.1" stroke="#0d0d0d" stroke-width="2.7"/>
<circle cx="2133.5" cy="313.2" r="5.85" fill="#fff" stroke="#0d0d0d" stroke-width="2.9"/>
<text transform="translate(1765.7 198) rotate(-90) scale(1 0.94)" text-anchor="middle" font-size="25.5">Normalized adjusted</text>
<text transform="translate(1797.7 195) rotate(-90) scale(1 0.94)" text-anchor="middle" font-size="25.5">CBTA response</text>
</g>
<g id="panel-d">
<text transform="translate(2.2 543.8) scale(1 1.02)" font-weight="bold" font-size="32.6">d</text>
<line x1="99.6" y1="560.45" x2="99.6" y2="834.15" stroke="#0d0d0d" stroke-width="3.1"/>
<line x1="85.3" y1="562" x2="99.6" y2="562" stroke="#0d0d0d" stroke-width="3.1"/>
<text transform="translate(81.5 572.6) scale(1 1.02)" text-anchor="end" font-size="28.2">8</text>
<line x1="85.3" y1="616.12" x2="99.6" y2="616.12" stroke="#0d0d0d" stroke-width="3.1"/>
<text transform="translate(81.5 626.72) scale(1 1.02)" text-anchor="end" font-size="28.2">6</text>
<line x1="85.3" y1="670.24" x2="99.6" y2="670.24" stroke="#0d0d0d" stroke-width="3.1"/>
<text transform="translate(81.5 680.84) scale(1 1.02)" text-anchor="end" font-size="28.2">4</text>
<line x1="85.3" y1="724.36" x2="99.6" y2="724.36" stroke="#0d0d0d" stroke-width="3.1"/>
<text transform="translate(81.5 734.96) scale(1 1.02)" text-anchor="end" font-size="28.2">2</text>
<line x1="85.3" y1="778.48" x2="99.6" y2="778.48" stroke="#0d0d0d" stroke-width="3.1"/>
<text transform="translate(81.5 789.08) scale(1 1.02)" text-anchor="end" font-size="28.2">0</text>
<line x1="85.3" y1="832.6" x2="99.6" y2="832.6" stroke="#0d0d0d" stroke-width="3.1"/>
<text transform="translate(81.5 843.2) scale(1 1.02)" text-anchor="end" font-size="28.2">-2</text>
<text transform="translate(45.3 697) rotate(-90) scale(1 1)" text-anchor="middle" font-size="33.2">Current (nA)</text>
<line x1="140.75" y1="874.8" x2="569.55" y2="874.8" stroke="#0d0d0d" stroke-width="3.1"/>
<line x1="142.3" y1="874.8" x2="142.3" y2="888.2" stroke="#0d0d0d" stroke-width="3.1"/>
<text transform="translate(142.3 914.4) scale(1 1.02)" text-anchor="middle" font-size="28.2">0</text>
<line x1="227.44" y1="874.8" x2="227.44" y2="888.2" stroke="#0d0d0d" stroke-width="3.1"/>
<text transform="translate(227.44 914.4) scale(1 1.02)" text-anchor="middle" font-size="28.2">20</text>
<line x1="312.58" y1="874.8" x2="312.58" y2="888.2" stroke="#0d0d0d" stroke-width="3.1"/>
<text transform="translate(312.58 914.4) scale(1 1.02)" text-anchor="middle" font-size="28.2">40</text>
<line x1="397.72" y1="874.8" x2="397.72" y2="888.2" stroke="#0d0d0d" stroke-width="3.1"/>
<text transform="translate(397.72 914.4) scale(1 1.02)" text-anchor="middle" font-size="28.2">60</text>
<line x1="482.86" y1="874.8" x2="482.86" y2="888.2" stroke="#0d0d0d" stroke-width="3.1"/>
<text transform="translate(482.86 914.4) scale(1 1.02)" text-anchor="middle" font-size="28.2">80</text>
<line x1="568" y1="874.8" x2="568" y2="888.2" stroke="#0d0d0d" stroke-width="3.1"/>
<text transform="translate(568 914.4) scale(1 1.02)" text-anchor="middle" font-size="28.2">100</text>
<text transform="translate(355.5 950) scale(1 1.02)" text-anchor="middle" font-size="31.8">Time (s)</text>
<line x1="101" y1="778.1" x2="565" y2="778.1" stroke="#0d0d0d" stroke-width="2.3" stroke-dasharray="2.1 2.35"/>
<polyline points="142.3,794.6 163.59,822.5 184.87,801.4 206.16,789.9 227.44,786.7 248.73,785.3 270.01,784.9 291.3,784.4 312.58,783.8 333.87,783.8 355.15,783.5 376.44,783.4 397.72,783.3 419,783.2 440.29,783.1 461.57,783.1 482.86,783.1 504.15,783.1" fill="none" stroke="#0d0d0d" stroke-width="1.6" stroke-linejoin="round" stroke-linecap="round"/>
<circle cx="142.3" cy="794.6" r="5.9" fill="#fff" stroke="#0d0d0d" stroke-width="1.5"/>
<circle cx="163.59" cy="822.5" r="5.9" fill="#fff" stroke="#0d0d0d" stroke-width="1.5"/>
<circle cx="184.87" cy="801.4" r="5.9" fill="#fff" stroke="#0d0d0d" stroke-width="1.5"/>
<circle cx="206.16" cy="789.9" r="5.9" fill="#fff" stroke="#0d0d0d" stroke-width="1.5"/>
<circle cx="227.44" cy="786.7" r="5.9" fill="#fff" stroke="#0d0d0d" stroke-width="1.5"/>
<circle cx="248.73" cy="785.3" r="5.9" fill="#fff" stroke="#0d0d0d" stroke-width="1.5"/>
<circle cx="270.01" cy="784.9" r="5.9" fill="#fff" stroke="#0d0d0d" stroke-width="1.5"/>
<circle cx="291.3" cy="784.4" r="5.9" fill="#fff" stroke="#0d0d0d" stroke-width="1.5"/>
<circle cx="312.58" cy="783.8" r="5.9" fill="#fff" stroke="#0d0d0d" stroke-width="1.5"/>
<circle cx="333.87" cy="783.8" r="5.9" fill="#fff" stroke="#0d0d0d" stroke-width="1.5"/>
<circle cx="355.15" cy="783.5" r="5.9" fill="#fff" stroke="#0d0d0d" stroke-width="1.5"/>
<circle cx="376.44" cy="783.4" r="5.9" fill="#fff" stroke="#0d0d0d" stroke-width="1.5"/>
<circle cx="397.72" cy="783.3" r="5.9" fill="#fff" stroke="#0d0d0d" stroke-width="1.5"/>
<circle cx="419" cy="783.2" r="5.9" fill="#fff" stroke="#0d0d0d" stroke-width="1.5"/>
<circle cx="440.29" cy="783.1" r="5.9" fill="#fff" stroke="#0d0d0d" stroke-width="1.5"/>
<circle cx="461.57" cy="783.1" r="5.9" fill="#fff" stroke="#0d0d0d" stroke-width="1.5"/>
<circle cx="482.86" cy="783.1" r="5.9" fill="#fff" stroke="#0d0d0d" stroke-width="1.5"/>
<circle cx="504.15" cy="783.1" r="5.9" fill="#fff" stroke="#0d0d0d" stroke-width="1.5"/>
<polyline points="142.3,636.9 163.59,584.9 184.87,627.2 206.16,664.1 227.44,682.8 248.73,689.2 270.01,697.5 291.3,701.4 312.58,705.7 333.87,708.9 355.15,711.8 376.44,713.2 397.72,711.4 419,712.5 440.29,715.4 461.57,715.4 482.86,715.4 504.15,716.1" fill="none" stroke="#0d0d0d" stroke-width="1.6" stroke-linejoin="round" stroke-linecap="round"/>
<circle cx="142.3" cy="636.9" r="7" fill="#0d0d0d"/>
<circle cx="163.59" cy="584.9" r="7" fill="#0d0d0d"/>
<circle cx="184.87" cy="627.2" r="7" fill="#0d0d0d"/>
<circle cx="206.16" cy="664.1" r="7" fill="#0d0d0d"/>
<circle cx="227.44" cy="682.8" r="7" fill="#0d0d0d"/>
<circle cx="248.73" cy="689.2" r="7" fill="#0d0d0d"/>
<circle cx="270.01" cy="697.5" r="7" fill="#0d0d0d"/>
<circle cx="291.3" cy="701.4" r="7" fill="#0d0d0d"/>
<circle cx="312.58" cy="705.7" r="7" fill="#0d0d0d"/>
<circle cx="333.87" cy="708.9" r="7" fill="#0d0d0d"/>
<circle cx="355.15" cy="711.8" r="7" fill="#0d0d0d"/>
<circle cx="376.44" cy="713.2" r="7" fill="#0d0d0d"/>
<circle cx="397.72" cy="711.4" r="7" fill="#0d0d0d"/>
<circle cx="419" cy="712.5" r="7" fill="#0d0d0d"/>
<circle cx="440.29" cy="715.4" r="7" fill="#0d0d0d"/>
<circle cx="461.57" cy="715.4" r="7" fill="#0d0d0d"/>
<circle cx="482.86" cy="715.4" r="7" fill="#0d0d0d"/>
<circle cx="504.15" cy="716.1" r="7" fill="#0d0d0d"/>
<text transform="translate(125 565.2) scale(1 1.02)" font-size="33">Peak</text>
<text transform="translate(407 692.8) scale(1 1.02)" font-size="33">Steady-state</text>
<line x1="399.6" y1="560.9" x2="433.6" y2="560.9" stroke="#0d0d0d" stroke-width="1.6"/>
<circle cx="416.4" cy="560.9" r="7" fill="#0d0d0d"/>
<text transform="translate(451.5 568.3) scale(1 1.02)" font-size="28.5">+100 mV</text>
<line x1="399.6" y1="590.7" x2="433.6" y2="590.7" stroke="#0d0d0d" stroke-width="1.6"/>
<circle cx="416.4" cy="590.7" r="5.9" fill="#fff" stroke="#0d0d0d" stroke-width="1.5"/>
<text transform="translate(452.5 598.6) scale(1 1.02)" font-size="28.5">-100 mV</text>
</g>
<g id="panel-e">
<text transform="translate(614 543.9) scale(1 1.02)" font-weight="bold" font-size="32.6">e</text>
<text transform="translate(967.5 544.6) scale(1 1.02)" text-anchor="middle" font-size="28.6">Peak</text>
<line x1="725.3" y1="564.9" x2="725.3" y2="850.3" stroke="#0d0d0d" stroke-width="3.2"/>
<line x1="710.9" y1="566.5" x2="725.3" y2="566.5" stroke="#0d0d0d" stroke-width="3.2"/>
<text transform="translate(706.3 576.1) scale(1 1.02)" text-anchor="end" font-size="27.6">10</text>
<line x1="710.9" y1="637.05" x2="725.3" y2="637.05" stroke="#0d0d0d" stroke-width="3.2"/>
<text transform="translate(706.3 646.65) scale(1 1.02)" text-anchor="end" font-size="27.6">5</text>
<line x1="710.9" y1="707.6" x2="725.3" y2="707.6" stroke="#0d0d0d" stroke-width="3.2"/>
<text transform="translate(706.3 717.2) scale(1 1.02)" text-anchor="end" font-size="27.6">0</text>
<line x1="710.9" y1="778.15" x2="725.3" y2="778.15" stroke="#0d0d0d" stroke-width="3.2"/>
<text transform="translate(706.3 787.75) scale(1 1.02)" text-anchor="end" font-size="27.6">-5</text>
<line x1="710.9" y1="848.7" x2="725.3" y2="848.7" stroke="#0d0d0d" stroke-width="3.2"/>
<text transform="translate(706.3 858.3) scale(1 1.02)" text-anchor="end" font-size="27.6">-10</text>
<text transform="translate(653.6 711) rotate(-90) scale(1 0.94)" text-anchor="middle" font-size="29.8">Current (nA)</text>
<line x1="745.3" y1="875.1" x2="1191" y2="875.1" stroke="#0d0d0d" stroke-width="3.4"/>
<line x1="785.5" y1="875.1" x2="785.5" y2="888.5" stroke="#0d0d0d" stroke-width="3.2"/>
<text transform="translate(794.4 905) rotate(-45) scale(1 1.02)" text-anchor="end" font-size="28.2">tsA201</text>
<line x1="846.3" y1="875.1" x2="846.3" y2="888.5" stroke="#0d0d0d" stroke-width="3.2"/>
<text transform="translate(855.7 904) rotate(-45) scale(1 1.02)" text-anchor="end" font-size="29">WT</text>
<line x1="907.4" y1="875.1" x2="907.4" y2="888.5" stroke="#0d0d0d" stroke-width="3.2"/>
<text transform="translate(916.1 905) rotate(-45) scale(1 1.02)" text-anchor="end" font-size="29">F730A</text>
<line x1="968.1" y1="875.1" x2="968.1" y2="888.5" stroke="#0d0d0d" stroke-width="3.2"/>
<text transform="translate(978 905) rotate(-45) scale(1 1.02)" text-anchor="end" font-size="29">L764A</text>
<line x1="1028.9" y1="875.1" x2="1028.9" y2="888.5" stroke="#0d0d0d" stroke-width="3.2"/>
<text transform="translate(1039.5 905) rotate(-45) scale(1 1.02)" text-anchor="end" font-size="29">R834A</text>
<line x1="1090" y1="875.1" x2="1090" y2="888.5" stroke="#0d0d0d" stroke-width="3.2"/>
<text transform="translate(1100.6 905) rotate(-45) scale(1 1.02)" text-anchor="end" font-size="29">R998A</text>
<line x1="1150.7" y1="875.1" x2="1150.7" y2="888.5" stroke="#0d0d0d" stroke-width="3.2"/>
<text transform="translate(1162.5 905) rotate(-45) scale(1 1.02)" text-anchor="end" font-size="29">N723A</text>
<rect x="826.5" y="707.5" width="39.5" height="40.6" fill="#58585a" stroke="#0d0d0d" stroke-width="1.5"/>
<rect x="826.5" y="617.5" width="39.5" height="90" fill="#fff" stroke="#0d0d0d" stroke-width="1.5"/>
<rect x="887.6" y="707.5" width="39.5" height="15.3" fill="#58585a" stroke="#0d0d0d" stroke-width="1.5"/>
<rect x="887.6" y="665.4" width="39.5" height="42.1" fill="#fff" stroke="#0d0d0d" stroke-width="1.5"/>
<rect x="948.6" y="686.3" width="39.6" height="21.2" fill="#fff" stroke="#0d0d0d" stroke-width="1.5"/>
<rect x="1009.2" y="693" width="39.4" height="14.5" fill="#fff" stroke="#0d0d0d" stroke-width="1.5"/>
<rect x="1070.2" y="686.5" width="39.5" height="21" fill="#fff" stroke="#0d0d0d" stroke-width="1.5"/>
<rect x="1131" y="677.5" width="39.5" height="30" fill="#fff" stroke="#0d0d0d" stroke-width="1.5"/>
<line x1="745.3" y1="707.5" x2="1191" y2="707.5" stroke="#0d0d0d" stroke-width="3.5"/>
<circle cx="770.32" cy="708.78" r="5.1" fill="#fff" stroke="#0d0d0d" stroke-width="1"/>
<circle cx="781.15" cy="709.21" r="5.1" fill="#fff" stroke="#0d0d0d" stroke-width="1"/>
<circle cx="790.25" cy="709.21" r="5.1" fill="#fff" stroke="#0d0d0d" stroke-width="1"/>
<circle cx="801.08" cy="708.78" r="5.1" fill="#fff" stroke="#0d0d0d" stroke-width="1"/>
<circle cx="773.57" cy="705.53" r="5.4" fill="#0d0d0d"/>
<circle cx="778.99" cy="705.53" r="5.4" fill="#0d0d0d"/>
<circle cx="784.4" cy="705.96" r="5.4" fill="#0d0d0d"/>
<circle cx="795.23" cy="706.18" r="5.4" fill="#0d0d0d"/>
<circle cx="798.05" cy="706.18" r="5.4" fill="#0d0d0d"/>
<circle cx="841.15" cy="717.88" r="5.1" fill="#fff" stroke="#0d0d0d" stroke-width="1"/>
<circle cx="851.33" cy="715.49" r="5.1" fill="#fff" stroke="#0d0d0d" stroke-width="1"/>
<circle cx="830.97" cy="731.09" r="5.1" fill="#fff" stroke="#0d0d0d" stroke-width="1"/>
<circle cx="841.15" cy="736.07" r="5.1" fill="#fff" stroke="#0d0d0d" stroke-width="1"/>
<circle cx="851.33" cy="733.04" r="5.1" fill="#fff" stroke="#0d0d0d" stroke-width="1"/>
<circle cx="861.51" cy="733.9" r="5.1" fill="#fff" stroke="#0d0d0d" stroke-width="1"/>
<circle cx="841.15" cy="772.67" r="5.1" fill="#fff" stroke="#0d0d0d" stroke-width="1"/>
<circle cx="851.33" cy="775.92" r="5.1" fill="#fff" stroke="#0d0d0d" stroke-width="1"/>
<circle cx="846.13" cy="820.97" r="5.1" fill="#fff" stroke="#0d0d0d" stroke-width="1"/>
<circle cx="841.15" cy="573.84" r="5.4" fill="#0d0d0d"/>
<circle cx="851.33" cy="580.99" r="5.4" fill="#0d0d0d"/>
<circle cx="851.33" cy="601.13" r="5.4" fill="#0d0d0d"/>
<circle cx="841.15" cy="606.55" r="5.4" fill="#0d0d0d"/>
<circle cx="830.97" cy="617.81" r="5.4" fill="#0d0d0d"/>
<circle cx="841.15" cy="624.74" r="5.4" fill="#0d0d0d"/>
<circle cx="851.33" cy="626.47" r="5.4" fill="#0d0d0d"/>
<circle cx="846.13" cy="653.12" r="5.4" fill="#0d0d0d"/>
<circle cx="846.13" cy="666.54" r="5.4" fill="#0d0d0d"/>
<circle cx="891.61" cy="710.51" r="5.1" fill="#fff" stroke="#0d0d0d" stroke-width="1"/>
<circle cx="896.38" cy="709.65" r="5.1" fill="#fff" stroke="#0d0d0d" stroke-width="1"/>
<circle cx="900.71" cy="715.71" r="5.1" fill="#fff" stroke="#0d0d0d" stroke-width="1"/>
<circle cx="909.59" cy="713.11" r="5.1" fill="#fff" stroke="#0d0d0d" stroke-width="1"/>
<circle cx="905.04" cy="710.51" r="5.1" fill="#fff" stroke="#0d0d0d" stroke-width="1"/>
<circle cx="923.02" cy="712.03" r="5.1" fill="#fff" stroke="#0d0d0d" stroke-width="1"/>
<circle cx="918.04" cy="713.11" r="5.1" fill="#fff" stroke="#0d0d0d" stroke-width="1"/>
<circle cx="907.21" cy="764.01" r="5.1" fill="#fff" stroke="#0d0d0d" stroke-width="1"/>
<circle cx="907.21" cy="777.44" r="5.1" fill="#fff" stroke="#0d0d0d" stroke-width="1"/>
<circle cx="907.21" cy="586.84" r="5.4" fill="#0d0d0d"/>
<circle cx="907.21" cy="630.37" r="5.4" fill="#0d0d0d"/>
<circle cx="905.04" cy="665.46" r="5.4" fill="#0d0d0d"/>
<circle cx="913.92" cy="667.19" r="5.4" fill="#0d0d0d"/>
<circle cx="905.04" cy="676.29" r="5.4" fill="#0d0d0d"/>
<circle cx="913.92" cy="683.44" r="5.4" fill="#0d0d0d"/>
<circle cx="900.28" cy="688.85" r="5.4" fill="#0d0d0d"/>
<circle cx="905.69" cy="689.29" r="5.4" fill="#0d0d0d"/>
<circle cx="910.02" cy="691.89" r="5.4" fill="#0d0d0d"/>
<circle cx="952.61" cy="711.77" r="5.1" fill="#fff" stroke="#0d0d0d" stroke-width="1"/>
<circle cx="955.84" cy="708.28" r="5.1" fill="#fff" stroke="#0d0d0d" stroke-width="1"/>
<circle cx="973.93" cy="711.77" r="5.1" fill="#fff" stroke="#0d0d0d" stroke-width="1"/>
<circle cx="980.39" cy="712.68" r="5.1" fill="#fff" stroke="#0d0d0d" stroke-width="1"/>
<circle cx="962.3" cy="709.57" r="5.1" fill="#fff" stroke="#0d0d0d" stroke-width="1"/>
<circle cx="970.06" cy="709.57" r="5.1" fill="#fff" stroke="#0d0d0d" stroke-width="1"/>
<circle cx="983.62" cy="710.09" r="5.1" fill="#fff" stroke="#0d0d0d" stroke-width="1"/>
<circle cx="966.18" cy="713.71" r="5.1" fill="#fff" stroke="#0d0d0d" stroke-width="1"/>
<circle cx="968.25" cy="648.71" r="5.4" fill="#0d0d0d"/>
<circle cx="968.25" cy="663.32" r="5.4" fill="#0d0d0d"/>
<circle cx="968.25" cy="676.75" r="5.4" fill="#0d0d0d"/>
<circle cx="967.86" cy="688.51" r="5.4" fill="#0d0d0d"/>
<circle cx="971.35" cy="694.97" r="5.4" fill="#0d0d0d"/>
<circle cx="963.6" cy="697.17" r="5.4" fill="#0d0d0d"/>
<circle cx="973.29" cy="697.95" r="5.4" fill="#0d0d0d"/>
<circle cx="967.47" cy="699.5" r="5.4" fill="#0d0d0d"/>
<circle cx="1013.34" cy="710.87" r="5.1" fill="#fff" stroke="#0d0d0d" stroke-width="1"/>
<circle cx="1017.87" cy="709.57" r="5.1" fill="#fff" stroke="#0d0d0d" stroke-width="1"/>
<circle cx="1026.91" cy="707.9" r="5.1" fill="#fff" stroke="#0d0d0d" stroke-width="1"/>
<circle cx="1044.36" cy="710.87" r="5.1" fill="#fff" stroke="#0d0d0d" stroke-width="1"/>
<circle cx="1041.13" cy="710.48" r="5.1" fill="#fff" stroke="#0d0d0d" stroke-width="1"/>
<circle cx="1037.25" cy="709.57" r="5.1" fill="#fff" stroke="#0d0d0d" stroke-width="1"/>
<circle cx="1023.29" cy="711.38" r="5.1" fill="#fff" stroke="#0d0d0d" stroke-width="1"/>
<circle cx="1031.43" cy="709.83" r="5.1" fill="#fff" stroke="#0d0d0d" stroke-width="1"/>
<circle cx="1022.65" cy="682.7" r="5.4" fill="#0d0d0d"/>
<circle cx="1027.56" cy="683.99" r="5.4" fill="#0d0d0d"/>
<circle cx="1032.08" cy="685.93" r="5.4" fill="#0d0d0d"/>
<circle cx="1035.31" cy="687.87" r="5.4" fill="#0d0d0d"/>
<circle cx="1025.62" cy="689.16" r="5.4" fill="#0d0d0d"/>
<circle cx="1030.79" cy="693.04" r="5.4" fill="#0d0d0d"/>
<circle cx="1023.68" cy="696.27" r="5.4" fill="#0d0d0d"/>
<circle cx="1033.37" cy="698.85" r="5.4" fill="#0d0d0d"/>
<circle cx="1015.93" cy="703.11" r="5.4" fill="#0d0d0d"/>
<circle cx="1077.95" cy="708.54" r="5.1" fill="#fff" stroke="#0d0d0d" stroke-width="1"/>
<circle cx="1082.47" cy="709.83" r="5.1" fill="#fff" stroke="#0d0d0d" stroke-width="1"/>
<circle cx="1091.52" cy="708.54" r="5.1" fill="#fff" stroke="#0d0d0d" stroke-width="1"/>
<circle cx="1097.98" cy="709.83" r="5.1" fill="#fff" stroke="#0d0d0d" stroke-width="1"/>
<circle cx="1074.46" cy="713.71" r="5.1" fill="#fff" stroke="#0d0d0d" stroke-width="1"/>
<circle cx="1094.75" cy="714.36" r="5.1" fill="#fff" stroke="#0d0d0d" stroke-width="1"/>
<circle cx="1101.21" cy="714.74" r="5.1" fill="#fff" stroke="#0d0d0d" stroke-width="1"/>
<circle cx="1087.38" cy="716.94" r="5.1" fill="#fff" stroke="#0d0d0d" stroke-width="1"/>
<circle cx="1105.09" cy="710.87" r="5.1" fill="#fff" stroke="#0d0d0d" stroke-width="1"/>
<circle cx="1087.9" cy="670.16" r="5.4" fill="#0d0d0d"/>
<circle cx="1091.52" cy="669.78" r="5.4" fill="#0d0d0d"/>
<circle cx="1089.58" cy="680.11" r="5.4" fill="#0d0d0d"/>
<circle cx="1087" cy="682.7" r="5.4" fill="#0d0d0d"/>
<circle cx="1092.81" cy="683.99" r="5.4" fill="#0d0d0d"/>
<circle cx="1085.06" cy="687.87" r="5.4" fill="#0d0d0d"/>
<circle cx="1094.75" cy="690.45" r="5.4" fill="#0d0d0d"/>
<circle cx="1088.94" cy="696.27" r="5.4" fill="#0d0d0d"/>
<circle cx="1090.23" cy="699.5" r="5.4" fill="#0d0d0d"/>
<circle cx="1135.45" cy="709.57" r="5.1" fill="#fff" stroke="#0d0d0d" stroke-width="1"/>
<circle cx="1138.3" cy="708.54" r="5.1" fill="#fff" stroke="#0d0d0d" stroke-width="1"/>
<circle cx="1141.91" cy="709.19" r="5.1" fill="#fff" stroke="#0d0d0d" stroke-width="1"/>
<circle cx="1152.9" cy="708.54" r="5.1" fill="#fff" stroke="#0d0d0d" stroke-width="1"/>
<circle cx="1165.82" cy="709.19" r="5.1" fill="#fff" stroke="#0d0d0d" stroke-width="1"/>
<circle cx="1158.71" cy="709.83" r="5.1" fill="#fff" stroke="#0d0d0d" stroke-width="1"/>
<circle cx="1145.14" cy="709.19" r="5.1" fill="#fff" stroke="#0d0d0d" stroke-width="1"/>
<circle cx="1148.63" cy="714.61" r="5.1" fill="#fff" stroke="#0d0d0d" stroke-width="1"/>
<circle cx="1162.59" cy="711.77" r="5.1" fill="#fff" stroke="#0d0d0d" stroke-width="1"/>
<circle cx="1150.7" cy="639.67" r="5.4" fill="#0d0d0d"/>
<circle cx="1152.25" cy="667.19" r="5.4" fill="#0d0d0d"/>
<circle cx="1149.02" cy="672.62" r="5.4" fill="#0d0d0d"/>
<circle cx="1155.48" cy="676.88" r="5.4" fill="#0d0d0d"/>
<circle cx="1145.79" cy="680.76" r="5.4" fill="#0d0d0d"/>
<circle cx="1149.67" cy="682.7" r="5.4" fill="#0d0d0d"/>
<circle cx="1148.37" cy="687.87" r="5.4" fill="#0d0d0d"/>
<circle cx="1151.99" cy="690.45" r="5.4" fill="#0d0d0d"/>
<circle cx="1150.7" cy="696.91" r="5.4" fill="#0d0d0d"/>
<circle cx="1081.2" cy="769" r="8.3" fill="#0d0d0d"/>
<text transform="translate(1095 779) scale(1 1.02)" font-size="29.8">+100mV</text>
<circle cx="1081.2" cy="803" r="7.6" fill="#fff" stroke="#0d0d0d" stroke-width="1.4"/>
<text transform="translate(1099 813) scale(1 1.02)" font-size="29.8">-100mV</text>
</g>
<g id="panel-f">
<text transform="translate(1257.6 543.9) scale(1 1.02)" font-weight="bold" font-size="32.6">f</text>
<text transform="translate(1593 547.6) scale(1 1.02)" text-anchor="middle" font-size="29.3">Steady-state</text>
<line x1="1344.8" y1="557.9" x2="1344.8" y2="849.1" stroke="#0d0d0d" stroke-width="3.2"/>
<line x1="1331.4" y1="559.5" x2="1344.8" y2="559.5" stroke="#0d0d0d" stroke-width="3.2"/>
<text transform="translate(1326.6 569.7) scale(1 1.02)" text-anchor="end" font-size="27.6">4</text>
<line x1="1331.4" y1="617.1" x2="1344.8" y2="617.1" stroke="#0d0d0d" stroke-width="3.2"/>
<text transform="translate(1326.6 627.3) scale(1 1.02)" text-anchor="end" font-size="27.6">3</text>
<line x1="1331.4" y1="674.7" x2="1344.8" y2="674.7" stroke="#0d0d0d" stroke-width="3.2"/>
<text transform="translate(1326.6 684.9) scale(1 1.02)" text-anchor="end" font-size="27.6">2</text>
<line x1="1331.4" y1="732.3" x2="1344.8" y2="732.3" stroke="#0d0d0d" stroke-width="3.2"/>
<text transform="translate(1326.6 742.5) scale(1 1.02)" text-anchor="end" font-size="27.6">1</text>
<line x1="1331.4" y1="789.9" x2="1344.8" y2="789.9" stroke="#0d0d0d" stroke-width="3.2"/>
<text transform="translate(1326.6 800.1) scale(1 1.02)" text-anchor="end" font-size="27.6">0</text>
<line x1="1331.4" y1="847.5" x2="1344.8" y2="847.5" stroke="#0d0d0d" stroke-width="3.2"/>
<text transform="translate(1326.6 857.7) scale(1 1.02)" text-anchor="end" font-size="27.6">-1</text>
<text transform="translate(1285.6 703.7) rotate(-90) scale(1 0.94)" text-anchor="middle" font-size="29.8">Current (nA)</text>
<line x1="1366" y1="875.1" x2="1820.5" y2="875.1" stroke="#0d0d0d" stroke-width="3.4"/>
<line x1="1406.4" y1="875.1" x2="1406.4" y2="888.5" stroke="#0d0d0d" stroke-width="3.2"/>
<text transform="translate(1415.1 905) rotate(-45) scale(1 1.02)" text-anchor="end" font-size="28.2">tsA201</text>
<line x1="1468.6" y1="875.1" x2="1468.6" y2="888.5" stroke="#0d0d0d" stroke-width="3.2"/>
<text transform="translate(1477.3 904) rotate(-45) scale(1 1.02)" text-anchor="end" font-size="29">WT</text>
<line x1="1530.4" y1="875.1" x2="1530.4" y2="888.5" stroke="#0d0d0d" stroke-width="3.2"/>
<text transform="translate(1538.6 905) rotate(-45) scale(1 1.02)" text-anchor="end" font-size="29">F730A</text>
<line x1="1592.6" y1="875.1" x2="1592.6" y2="888.5" stroke="#0d0d0d" stroke-width="3.2"/>
<text transform="translate(1602 905) rotate(-45) scale(1 1.02)" text-anchor="end" font-size="29">L764A</text>
<line x1="1654.5" y1="875.1" x2="1654.5" y2="888.5" stroke="#0d0d0d" stroke-width="3.2"/>
<text transform="translate(1665.1 905) rotate(-45) scale(1 1.02)" text-anchor="end" font-size="29">R834A</text>
<line x1="1716.7" y1="875.1" x2="1716.7" y2="888.5" stroke="#0d0d0d" stroke-width="3.2"/>
<text transform="translate(1727.8 905) rotate(-45) scale(1 1.02)" text-anchor="end" font-size="29">R998A</text>
<line x1="1778.9" y1="875.1" x2="1778.9" y2="888.5" stroke="#0d0d0d" stroke-width="3.2"/>
<text transform="translate(1790.2 905) rotate(-45) scale(1 1.02)" text-anchor="end" font-size="29">N723A</text>
<rect x="1386.5" y="786.8" width="40" height="3.2" fill="#fff" stroke="#0d0d0d" stroke-width="1.5"/>
<rect x="1449.2" y="790" width="40.2" height="12.3" fill="#58585a" stroke="#0d0d0d" stroke-width="1.5"/>
<rect x="1449.2" y="663.5" width="40.2" height="126.5" fill="#fff" stroke="#0d0d0d" stroke-width="1.5"/>
<rect x="1511.3" y="790" width="39.9" height="7.5" fill="#58585a" stroke="#0d0d0d" stroke-width="1.5"/>
<rect x="1511.3" y="738" width="39.9" height="52" fill="#fff" stroke="#0d0d0d" stroke-width="1.5"/>
<rect x="1573.3" y="773.3" width="40.1" height="16.7" fill="#fff" stroke="#0d0d0d" stroke-width="1.5"/>
<rect x="1634.9" y="759.3" width="40.1" height="30.7" fill="#fff" stroke="#0d0d0d" stroke-width="1.5"/>
<rect x="1697.2" y="756.5" width="40.1" height="33.5" fill="#fff" stroke="#0d0d0d" stroke-width="1.5"/>
<rect x="1759.2" y="759" width="40.5" height="31" fill="#fff" stroke="#0d0d0d" stroke-width="1.5"/>
<circle cx="1391.41" cy="791.93" r="5.1" fill="#fff" stroke="#0d0d0d" stroke-width="1"/>
<circle cx="1402.24" cy="793.66" r="5.1" fill="#fff" stroke="#0d0d0d" stroke-width="1"/>
<circle cx="1408.08" cy="793.01" r="5.1" fill="#fff" stroke="#0d0d0d" stroke-width="1"/>
<circle cx="1413.71" cy="793.01" r="5.1" fill="#fff" stroke="#0d0d0d" stroke-width="1"/>
<circle cx="1422.81" cy="792.15" r="5.1" fill="#fff" stroke="#0d0d0d" stroke-width="1"/>
<circle cx="1453.13" cy="798" r="5.1" fill="#fff" stroke="#0d0d0d" stroke-width="1"/>
<circle cx="1461.36" cy="800.16" r="5.1" fill="#fff" stroke="#0d0d0d" stroke-width="1"/>
<circle cx="1476.96" cy="794.75" r="5.1" fill="#fff" stroke="#0d0d0d" stroke-width="1"/>
<circle cx="1468.95" cy="796.91" r="5.1" fill="#fff" stroke="#0d0d0d" stroke-width="1"/>
<circle cx="1484.54" cy="798.43" r="5.1" fill="#fff" stroke="#0d0d0d" stroke-width="1"/>
<circle cx="1453.13" cy="808.83" r="5.1" fill="#fff" stroke="#0d0d0d" stroke-width="1"/>
<circle cx="1468.95" cy="807.74" r="5.1" fill="#fff" stroke="#0d0d0d" stroke-width="1"/>
<circle cx="1476.96" cy="805.58" r="5.1" fill="#fff" stroke="#0d0d0d" stroke-width="1"/>
<circle cx="1484.54" cy="814.24" r="5.1" fill="#fff" stroke="#0d0d0d" stroke-width="1"/>
<circle cx="1515.51" cy="795.83" r="5.1" fill="#fff" stroke="#0d0d0d" stroke-width="1"/>
<circle cx="1526.77" cy="794.75" r="5.1" fill="#fff" stroke="#0d0d0d" stroke-width="1"/>
<circle cx="1541.94" cy="794.75" r="5.1" fill="#fff" stroke="#0d0d0d" stroke-width="1"/>
<circle cx="1547.35" cy="794.31" r="5.1" fill="#fff" stroke="#0d0d0d" stroke-width="1"/>
<circle cx="1534.36" cy="794.75" r="5.1" fill="#fff" stroke="#0d0d0d" stroke-width="1"/>
<circle cx="1527.86" cy="801.25" r="5.1" fill="#fff" stroke="#0d0d0d" stroke-width="1"/>
<circle cx="1533.92" cy="803.84" r="5.1" fill="#fff" stroke="#0d0d0d" stroke-width="1"/>
<circle cx="1540.85" cy="801.25" r="5.1" fill="#fff" stroke="#0d0d0d" stroke-width="1"/>
<circle cx="1521.79" cy="806.23" r="5.1" fill="#fff" stroke="#0d0d0d" stroke-width="1"/>
<circle cx="1581.32" cy="791.38" r="5.1" fill="#fff" stroke="#0d0d0d" stroke-width="1"/>
<circle cx="1577.44" cy="794.74" r="5.1" fill="#fff" stroke="#0d0d0d" stroke-width="1"/>
<circle cx="1584.55" cy="794.36" r="5.1" fill="#fff" stroke="#0d0d0d" stroke-width="1"/>
<circle cx="1589.46" cy="793.71" r="5.1" fill="#fff" stroke="#0d0d0d" stroke-width="1"/>
<circle cx="1600.7" cy="795.26" r="5.1" fill="#fff" stroke="#0d0d0d" stroke-width="1"/>
<circle cx="1608.84" cy="795.91" r="5.1" fill="#fff" stroke="#0d0d0d" stroke-width="1"/>
<circle cx="1593.21" cy="802.11" r="5.1" fill="#fff" stroke="#0d0d0d" stroke-width="1"/>
<circle cx="1639.08" cy="795.65" r="5.1" fill="#fff" stroke="#0d0d0d" stroke-width="1"/>
<circle cx="1645.28" cy="794.36" r="5.1" fill="#fff" stroke="#0d0d0d" stroke-width="1"/>
<circle cx="1649.16" cy="793.71" r="5.1" fill="#fff" stroke="#0d0d0d" stroke-width="1"/>
<circle cx="1650.45" cy="796.94" r="5.1" fill="#fff" stroke="#0d0d0d" stroke-width="1"/>
<circle cx="1659.5" cy="796.29" r="5.1" fill="#fff" stroke="#0d0d0d" stroke-width="1"/>
<circle cx="1671.13" cy="795.91" r="5.1" fill="#fff" stroke="#0d0d0d" stroke-width="1"/>
<circle cx="1653.04" cy="793.71" r="5.1" fill="#fff" stroke="#0d0d0d" stroke-width="1"/>
<circle cx="1664.66" cy="794.74" r="5.1" fill="#fff" stroke="#0d0d0d" stroke-width="1"/>
<circle cx="1701.23" cy="795" r="5.1" fill="#fff" stroke="#0d0d0d" stroke-width="1"/>
<circle cx="1727.98" cy="798.88" r="5.1" fill="#fff" stroke="#0d0d0d" stroke-width="1"/>
<circle cx="1724.1" cy="795" r="5.1" fill="#fff" stroke="#0d0d0d" stroke-width="1"/>
<circle cx="1732.89" cy="795" r="5.1" fill="#fff" stroke="#0d0d0d" stroke-width="1"/>
<circle cx="1715.06" cy="793.97" r="5.1" fill="#fff" stroke="#0d0d0d" stroke-width="1"/>
<circle cx="1709.89" cy="799.52" r="5.1" fill="#fff" stroke="#0d0d0d" stroke-width="1"/>
<circle cx="1719.58" cy="803.4" r="5.1" fill="#fff" stroke="#0d0d0d" stroke-width="1"/>
<circle cx="1714.8" cy="812.83" r="5.1" fill="#fff" stroke="#0d0d0d" stroke-width="1"/>
<circle cx="1766.75" cy="792.42" r="5.1" fill="#fff" stroke="#0d0d0d" stroke-width="1"/>
<circle cx="1763.26" cy="795.65" r="5.1" fill="#fff" stroke="#0d0d0d" stroke-width="1"/>
<circle cx="1784.19" cy="800.17" r="5.1" fill="#fff" stroke="#0d0d0d" stroke-width="1"/>
<circle cx="1791.3" cy="799.52" r="5.1" fill="#fff" stroke="#0d0d0d" stroke-width="1"/>
<circle cx="1795.17" cy="793.71" r="5.1" fill="#fff" stroke="#0d0d0d" stroke-width="1"/>
<circle cx="1788.71" cy="794.36" r="5.1" fill="#fff" stroke="#0d0d0d" stroke-width="1"/>
<circle cx="1770.36" cy="793.71" r="5.1" fill="#fff" stroke="#0d0d0d" stroke-width="1"/>
<circle cx="1780.96" cy="793.06" r="5.1" fill="#fff" stroke="#0d0d0d" stroke-width="1"/>
<circle cx="1777.08" cy="799.52" r="5.1" fill="#fff" stroke="#0d0d0d" stroke-width="1"/>
<line x1="1366.1" y1="790.1" x2="1820.8" y2="790.1" stroke="#0d0d0d" stroke-width="3.2"/>
<circle cx="1394.22" cy="785" r="5.4" fill="#0d0d0d"/>
<circle cx="1399.42" cy="784.57" r="5.4" fill="#0d0d0d"/>
<circle cx="1405.05" cy="785.65" r="5.4" fill="#0d0d0d"/>
<circle cx="1415.88" cy="787.82" r="5.4" fill="#0d0d0d"/>
<circle cx="1419.56" cy="786.52" r="5.4" fill="#0d0d0d"/>
<circle cx="1468.95" cy="576.21" r="5.4" fill="#0d0d0d"/>
<circle cx="1468.95" cy="603.5" r="5.4" fill="#0d0d0d"/>
<circle cx="1468.95" cy="620.83" r="5.4" fill="#0d0d0d"/>
<circle cx="1476.53" cy="651.8" r="5.4" fill="#0d0d0d"/>
<circle cx="1468.95" cy="657.65" r="5.4" fill="#0d0d0d"/>
<circle cx="1465.05" cy="698.58" r="5.4" fill="#0d0d0d"/>
<circle cx="1473.06" cy="697.93" r="5.4" fill="#0d0d0d"/>
<circle cx="1468.95" cy="723.92" r="5.4" fill="#0d0d0d"/>
<circle cx="1468.95" cy="739.52" r="5.4" fill="#0d0d0d"/>
<circle cx="1531.11" cy="692.95" r="5.4" fill="#0d0d0d"/>
<circle cx="1533.92" cy="700.1" r="5.4" fill="#0d0d0d"/>
<circle cx="1527.86" cy="704.21" r="5.4" fill="#0d0d0d"/>
<circle cx="1530.67" cy="707.03" r="5.4" fill="#0d0d0d"/>
<circle cx="1531.11" cy="745.58" r="5.4" fill="#0d0d0d"/>
<circle cx="1531.11" cy="761.83" r="5.4" fill="#0d0d0d"/>
<circle cx="1524.61" cy="770.49" r="5.4" fill="#0d0d0d"/>
<circle cx="1531.11" cy="772.01" r="5.4" fill="#0d0d0d"/>
<circle cx="1537.17" cy="770.92" r="5.4" fill="#0d0d0d"/>
<circle cx="1593.21" cy="750.81" r="5.4" fill="#0d0d0d"/>
<circle cx="1593.21" cy="756.5" r="5.4" fill="#0d0d0d"/>
<circle cx="1592.95" cy="768.51" r="5.4" fill="#0d0d0d"/>
<circle cx="1596.83" cy="771.74" r="5.4" fill="#0d0d0d"/>
<circle cx="1591.66" cy="776.27" r="5.4" fill="#0d0d0d"/>
<circle cx="1587.78" cy="782.08" r="5.4" fill="#0d0d0d"/>
<circle cx="1593.6" cy="782.73" r="5.4" fill="#0d0d0d"/>
<circle cx="1598.76" cy="784.02" r="5.4" fill="#0d0d0d"/>
<circle cx="1654.97" cy="740.09" r="5.4" fill="#0d0d0d"/>
<circle cx="1660.14" cy="747.84" r="5.4" fill="#0d0d0d"/>
<circle cx="1651.74" cy="749.78" r="5.4" fill="#0d0d0d"/>
<circle cx="1649.16" cy="753.91" r="5.4" fill="#0d0d0d"/>
<circle cx="1654.97" cy="757.53" r="5.4" fill="#0d0d0d"/>
<circle cx="1658.85" cy="766.57" r="5.4" fill="#0d0d0d"/>
<circle cx="1654.97" cy="768.51" r="5.4" fill="#0d0d0d"/>
<circle cx="1650.45" cy="771.1" r="5.4" fill="#0d0d0d"/>
<circle cx="1654.97" cy="782.08" r="5.4" fill="#0d0d0d"/>
<circle cx="1717" cy="728.46" r="5.4" fill="#0d0d0d"/>
<circle cx="1715.06" cy="734.92" r="5.4" fill="#0d0d0d"/>
<circle cx="1718.94" cy="740.73" r="5.4" fill="#0d0d0d"/>
<circle cx="1717" cy="743.32" r="5.4" fill="#0d0d0d"/>
<circle cx="1717.38" cy="758.18" r="5.4" fill="#0d0d0d"/>
<circle cx="1721.52" cy="764.64" r="5.4" fill="#0d0d0d"/>
<circle cx="1713.12" cy="767.87" r="5.4" fill="#0d0d0d"/>
<circle cx="1715.06" cy="774.97" r="5.4" fill="#0d0d0d"/>
<circle cx="1719.19" cy="777.17" r="5.4" fill="#0d0d0d"/>
<circle cx="1779.28" cy="707.39" r="5.4" fill="#0d0d0d"/>
<circle cx="1779.28" cy="736.47" r="5.4" fill="#0d0d0d"/>
<circle cx="1779.28" cy="757.79" r="5.4" fill="#0d0d0d"/>
<circle cx="1773.21" cy="763.34" r="5.4" fill="#0d0d0d"/>
<circle cx="1779.28" cy="763.99" r="5.4" fill="#0d0d0d"/>
<circle cx="1786.13" cy="765.28" r="5.4" fill="#0d0d0d"/>
<circle cx="1776.44" cy="768.51" r="5.4" fill="#0d0d0d"/>
<circle cx="1782.25" cy="769.16" r="5.4" fill="#0d0d0d"/>
<circle cx="1779.02" cy="779.5" r="5.4" fill="#0d0d0d"/>
<circle cx="1670.2" cy="603.6" r="8.3" fill="#0d0d0d"/>
<text transform="translate(1685 613.6) scale(1 1.02)" font-size="29.8">+100mV</text>
<circle cx="1670.2" cy="638.3" r="7.6" fill="#fff" stroke="#0d0d0d" stroke-width="1.4"/>
<text transform="translate(1688.5 647.8) scale(1 1.02)" font-size="29.8">-100mV</text>
</g>
<g id="panel-g">
<text transform="translate(9.8 1016.5) scale(1 1)" font-weight="bold" font-size="32.6">g</text>
<text transform="translate(150.7 1038.8) scale(1 1.02)" text-anchor="middle" font-size="28.8">tsA201</text>
<text transform="translate(472.5 1038.8) scale(1 1.02)" text-anchor="middle" font-size="28.8">WT</text>
<text transform="translate(775.5 1038.8) scale(1 1.02)" text-anchor="middle" font-size="28.8">F730A</text>
<text transform="translate(1089 1038.8) scale(1 1.02)" text-anchor="middle" font-size="28.8">L764A</text>
<text transform="translate(1401 1038.8) scale(1 1.02)" text-anchor="middle" font-size="28.8">R834A</text>
<text transform="translate(1715 1038.8) scale(1 1.02)" text-anchor="middle" font-size="28.8">R998A</text>
<text transform="translate(2028 1038.8) scale(1 1.02)" text-anchor="middle" font-size="28.8">N723A</text>
<line x1="27" y1="1101.2" x2="47.2" y2="1101.2" stroke="#e2312b" stroke-width="3"/>
<text transform="translate(53.7 1111) scale(1 1.02)" font-size="28.3">Peak</text>
<line x1="27" y1="1135.5" x2="47.2" y2="1135.5" stroke="#0d0d0d" stroke-width="3"/>
<text transform="translate(54.5 1143.5) scale(1 1.02)" font-size="28.5">Steady-state</text>
<polyline points="45.2,1303.9 83.8,1303.9 83.8,1272" fill="none" stroke="#0d0d0d" stroke-width="3.7" stroke-linejoin="round" stroke-linecap="round"/>
<text transform="translate(89.5 1299) scale(1 1.02)" font-size="28.5">1 nA</text>
<text transform="translate(26 1335) scale(1 1.02)" font-size="28.5">50 ms</text>
<polyline points="15.2,1230.6 24,1230.6 24.8,1235 27.5,1232 150,1230.6 266,1227.6 270,1226.9 272.7,1232.6 276,1230.9 284.5,1230.7" fill="none" stroke="#0d0d0d" stroke-width="2.8" stroke-linejoin="round" stroke-linecap="round"/>
<polyline points="15.2,1230.3 24,1230.3 24.8,1234.8 27.5,1231.5 150,1230 266,1227.1 270.2,1226.3 272.7,1232.2 276,1230.5 284.5,1230.4" fill="none" stroke="#e2312b" stroke-width="2.9" stroke-linejoin="round" stroke-linecap="round"/>
<polyline points="328.1,1236.7 339.6,1236.7 339.6,1227.6 339.6,1242.3 341.2,1242.31 342.4,1242.31 343.6,1242.19 344.8,1242.43 346,1242.56 347.2,1242.41 348.4,1242.3 349.6,1242.22 350.8,1242.35 352,1242.4 353.2,1242.44 354.4,1242.6 355.6,1242.42 356.8,1242.17 358,1242.37 359.2,1242.49 360.4,1242.46 361.6,1242.58 362.8,1242.64 364,1242.38 365.2,1242.33 366.4,1242.61 367.6,1242.55 368.8,1242.36 370,1242.3 371.2,1242.39 372.4,1242.42 373.6,1242.39 374.8,1242.35 376,1242.39 377.2,1242.41 378.4,1242.24 379.6,1242.39 380.8,1242.48 382,1242.38 383.2,1242.45 384.4,1242.47 385.6,1242.48 386.8,1242.56 388,1242.69 389.2,1242.73 390.4,1242.61 391.6,1242.45 392.8,1242.44 394,1242.53 395.2,1242.67 396.4,1242.61 397.6,1242.29 398.8,1242.27 400,1242.4 401.2,1242.27 402.4,1242.28 403.6,1242.44 404.8,1242.5 406,1242.48 407.2,1242.5 408.4,1242.45 409.6,1242.42 410.8,1242.56 412,1242.52 413.2,1242.39 414.4,1242.35 415.6,1242.52 416.8,1242.7 418,1242.66 419.2,1242.67 420.4,1242.63 421.6,1242.55 422.8,1242.54 424,1242.55 425.2,1242.6 426.4,1242.48 427.6,1242.42 428.8,1242.61 430,1242.67 431.2,1242.39 432.4,1242.28 433.6,1242.38 434.8,1242.38 436,1242.43 437.2,1242.4 438.4,1242.35 439.6,1242.43 440.8,1242.51 442,1242.4 443.2,1242.3 444.4,1242.25 445.6,1242.31 446.8,1242.48 448,1242.42 449.2,1242.43 450.4,1242.27 451.6,1242.25 452.8,1242.34 454,1242.43 455.2,1242.5 456.4,1242.51 457.6,1242.62 458.8,1242.42 460,1242.22 461.2,1242.19 462.4,1242.26 463.6,1242.52 464.8,1242.3 466,1241.99 467.2,1241.74 468.4,1241.85 469.6,1242.01 470.8,1242.12 472,1241.86 473.2,1241.27 474.4,1241.11 475.6,1241.01 476.8,1240.93 478,1240.86 479.2,1240.7 480.4,1240.37 481.6,1240.09 482.8,1239.94 484,1239.8 485.2,1239.61 486.4,1239.47 487.6,1239.43 488.8,1239.47 490,1239.05 491.2,1238.76 492.4,1238.72 493.6,1238.27 494.8,1237.83 496,1237.98 497.2,1238.07 498.4,1237.33 499.6,1236.79 500.8,1236.83 502,1236.64 503.2,1236.11 504.4,1235.87 505.6,1235.63 506.8,1235.47 508,1235.39 509.2,1234.54 510.4,1233.9 511.6,1233.6 512.8,1232.91 514,1232.45 515.2,1232.31 516.4,1231.75 517.6,1231.29 518.8,1230.97 520,1230.36 521.2,1230.04 522.4,1229.36 523.6,1228.45 524.8,1228.07 526,1227.52 527.2,1226.87 528.4,1226.13 529.6,1225.42 530.8,1225.03 532,1224.1 533.2,1222.97 534.4,1222.38 535.6,1221.66 536.8,1220.53 538,1219.46 539.2,1218.53 540.4,1217.67 541.6,1216.73 542.8,1215.41 544,1214.21 545.2,1213.14 546.4,1212 547.6,1210.81 548.8,1209.8 550,1208.77 551.2,1207.63 552.4,1206.26 553.6,1204.74 554.8,1202.96 556,1201.28 557.2,1199.81 558.4,1198.59 559.6,1197.29 560.8,1195.36 562,1193.25 563.2,1191.01 564.4,1189.21 565.6,1187.39 566.8,1184.85 568,1182.58 569.2,1180.63 570.4,1178.18 571.6,1176.08 572.8,1173.87 574,1171.19 575.2,1168.77 576.4,1166.36 577.6,1163.68 578.8,1160.94 580,1158.26 581.2,1155.16 582.4,1152.24 583.6,1149.35 584.8,1145.89 585.2,1144.9 586.7,1141.9 586.7,1237.1 586.7,1237.1 597.9,1237.1" fill="none" stroke="#0d0d0d" stroke-width="3.2" stroke-linejoin="round" stroke-linecap="round"/>
<polyline points="328.1,1241.7 339.9,1241.7 340,1284.1 340.2,1263.9 342.2,1263.08 343.2,1262.27 344.2,1262.11 345.2,1262.6 346.2,1262.64 347.2,1262.52 348.2,1262.51 349.2,1262.54 350.2,1262.08 351.2,1262.52 352.2,1263.25 353.2,1263.51 354.2,1263.21 355.2,1262.47 356.2,1262.25 357.2,1261.85 358.2,1262.35 359.2,1262.49 360.2,1261.74 361.2,1262.03 362.2,1262.93 363.2,1263.07 364.2,1262.2 365.2,1261.87 366.2,1262.42 367.2,1262.6 368.2,1262.12 369.2,1262.09 370.2,1262.6 371.2,1263.34 372.2,1262.66 373.2,1261.78 374.2,1261.92 375.2,1261.31 376.2,1261.27 377.2,1261.74 378.2,1262.43 379.2,1262.74 380.2,1261.8 381.2,1262.07 382.2,1262.51 383.2,1261.7 384.2,1261.63 385.2,1262.04 386.2,1261.96 387.2,1262.19 388.2,1261.74 389.2,1261.67 390.2,1262.8 391.2,1263.21 392.2,1263.27 393.2,1263.39 394.2,1263.54 395.2,1262.82 396.2,1262.63 397.2,1262.41 398.2,1261.95 399.2,1261.97 400.2,1262.56 401.2,1263.7 402.2,1263.31 403.2,1263.49 404.2,1263.36 405.2,1262.84 406.2,1263.16 407.2,1262.77 408.2,1262.9 409.2,1263.95 410.2,1263.47 411.2,1263.15 412.2,1263.46 413.2,1263.78 414.2,1264.01 415.2,1263.66 416.2,1263.72 417.2,1263.59 418.2,1262.91 419.2,1263.3 420.2,1263.31 421.2,1262.92 422.2,1263.59 423.2,1263.22 424.2,1263.06 425.2,1263.74 426.2,1263.68 427.2,1262.98 428.2,1262 429.2,1261.97 430.2,1262.75 431.2,1262.9 432.2,1262.77 433.2,1263.07 434.2,1263.2 435.2,1263.03 436.2,1263.45 437.2,1263.19 438.2,1262.85 439.2,1263.86 440.2,1264.25 441.2,1263.07 442.2,1262.74 443.2,1263.36 444.2,1263.79 445.2,1263.64 446.2,1263.03 447.2,1262.72 448.2,1263.11 449.2,1263.45 450.2,1263.04 451.2,1262.85 452.2,1262.87 453.2,1263.16 454.2,1263.05 455.2,1262.96 456.2,1263.46 457.2,1263.44 458.2,1262.85 459.2,1263.12 460.2,1263.15 461.2,1262.81 462.2,1262.77 463.2,1262.23 464.2,1262.15 465.2,1262.18 466.2,1261.78 467.2,1261.4 468.2,1260.91 469.2,1260.35 470.2,1260.07 471.2,1260.2 472.2,1260.07 473.2,1259.39 474.2,1259.08 475.2,1258.82 476.2,1258.38 477.2,1258.33 478.2,1258.03 479.2,1257.28 480.2,1256.88 481.2,1256.8 482.2,1256.56 483.2,1256.28 484.2,1255.61 485.2,1254.96 486.2,1254.55 487.2,1253.76 488.2,1253.17 489.2,1252.59 490.2,1251.6 491.2,1250.98 492.2,1250.18 493.2,1249.21 494.2,1248.57 495.2,1247.75 496.2,1246.71 497.2,1245.69 498.2,1244.84 499.2,1244.05 500.2,1242.97 501.2,1241.86 502.2,1241.01 503.2,1239.85 504.2,1239.42 505.2,1238.7 506.2,1237.05 507.2,1236.33 508.2,1235.42 509.2,1234.22 510.2,1233.48 511.2,1232.2 512.2,1230.81 513.2,1229.59 514.2,1228.35 515.2,1226.82 516.2,1225.24 517.2,1224.05 518.2,1222.97 519.2,1221.61 520.2,1220.21 521.2,1218.68 522.2,1216.75 523.2,1215.03 524.2,1213.16 525.2,1211.36 526.2,1209.84 527.2,1208.33 528.2,1206.87 529.2,1204.96 530.2,1202.95 531.2,1200.96 532.2,1199.19 533.2,1197.62 534.2,1195.8 535.2,1193.69 536.2,1191.97 537.2,1190.31 538.2,1187.92 539.2,1185.57 540.2,1183.45 541.2,1181.45 542.2,1179.37 543.2,1177.26 544.2,1175.2 545.2,1173.13 546.2,1170.94 547.2,1168.4 548.2,1165.95 549.2,1163.55 550.2,1160.99 551.2,1158.95 552.2,1156.5 553.2,1154.01 554.2,1151.49 555.2,1148.61 556.2,1146.24 557.2,1143.53 558.2,1140.7 559.2,1137.88 560.2,1134.91 561.2,1132.04 562.2,1129.07 563.2,1126.33 564.2,1123.29 565.2,1120.09 566.2,1116.38 567.2,1112.76 568.2,1109.93 569.2,1106.47 570.2,1103.14 571.2,1099.87 572.2,1096.22 573.2,1092.78 574.2,1089.91 575.2,1086.46 576.2,1082.58 577.2,1078.95 578.2,1075.33 579.2,1071.51 580.2,1067.66 581.2,1064.38 582.2,1060.54 583.2,1056.07 584.2,1051.81 585.2,1047.66 585.8,1044.5 586,1044 586.8,1245.8 587.4,1242.1 597.9,1242.1" fill="none" stroke="#e2312b" stroke-width="3.2" stroke-linejoin="round" stroke-linecap="round"/>
<polyline points="641.9,1236.6 652.7,1236.6 652.7,1226.9 652.7,1239.6 653.9,1239.49 655.1,1239.54 656.3,1239.69 657.5,1239.67 658.7,1239.46 659.9,1239.51 661.1,1239.59 662.3,1239.54 663.5,1239.73 664.7,1239.96 665.9,1239.87 667.1,1239.73 668.3,1239.56 669.5,1239.6 670.7,1239.61 671.9,1239.5 673.1,1239.67 674.3,1239.63 675.5,1239.44 676.7,1239.49 677.9,1239.7 679.1,1239.53 680.3,1239.45 681.5,1239.71 682.7,1239.88 683.9,1239.89 685.1,1239.78 686.3,1239.71 687.5,1239.67 688.7,1239.79 689.9,1239.67 691.1,1239.5 692.3,1239.67 693.5,1239.68 694.7,1239.51 695.9,1239.5 697.1,1239.63 698.3,1239.54 699.5,1239.5 700.7,1239.6 701.9,1239.57 703.1,1239.56 704.3,1239.79 705.5,1239.67 706.7,1239.5 707.9,1239.72 709.1,1239.65 710.3,1239.45 711.5,1239.55 712.7,1239.59 713.9,1239.69 715.1,1239.73 716.3,1239.69 717.5,1239.55 718.7,1239.27 719.9,1239.5 721.1,1239.65 722.3,1239.44 723.5,1239.51 724.7,1239.55 725.9,1239.35 727.1,1239.28 728.3,1239.42 729.5,1239.4 730.7,1239.31 731.9,1239.7 733.1,1239.82 734.3,1239.65 735.5,1239.72 736.7,1239.54 737.9,1239.3 739.1,1239.43 740.3,1239.44 741.5,1239.61 742.7,1239.93 743.9,1239.69 745.1,1239.38 746.3,1239.38 747.5,1239.61 748.7,1239.73 749.9,1239.69 751.1,1239.58 752.3,1239.41 753.5,1239.32 754.7,1239.23 755.9,1239.22 757.1,1239.14 758.3,1239.01 759.5,1239.05 760.7,1239.18 761.9,1239.22 763.1,1239.11 764.3,1238.97 765.5,1238.9 766.7,1238.9 767.9,1238.82 769.1,1238.79 770.3,1238.96 771.5,1239.01 772.7,1238.98 773.9,1238.67 775.1,1238.55 776.3,1238.66 777.5,1238.43 778.7,1238.41 779.9,1238.45 781.1,1238.5 782.3,1238.65 783.5,1238.51 784.7,1238.52 785.9,1238.63 787.1,1238.4 788.3,1238.48 789.5,1238.52 790.7,1238.4 791.9,1238.17 793.1,1238.06 794.3,1238.33 795.5,1238.14 796.7,1237.8 797.9,1237.52 799.1,1237.54 800.3,1237.94 801.5,1237.81 802.7,1237.41 803.9,1237.24 805.1,1237.2 806.3,1237.5 807.5,1237.54 808.7,1237.31 809.9,1236.86 811.1,1236.67 812.3,1236.93 813.5,1236.83 814.7,1236.67 815.9,1236.73 817.1,1236.6 818.3,1236.1 819.5,1236.15 820.7,1236.13 821.9,1235.88 823.1,1235.96 824.3,1235.68 825.5,1235.4 826.7,1235.1 827.9,1234.88 829.1,1234.78 830.3,1234.75 831.5,1234.86 832.7,1234.42 833.9,1233.82 835.1,1233.51 836.3,1233.52 837.5,1233.68 838.7,1233.65 839.9,1233.39 841.1,1233.07 842.3,1232.73 843.5,1232.58 844.7,1232.41 845.9,1232.2 847.1,1231.88 848.3,1231.22 849.5,1230.94 850.7,1230.96 851.9,1230.78 853.1,1230.41 854.3,1230.13 855.5,1229.79 856.7,1229.19 857.9,1228.66 859.1,1228.31 860.3,1227.96 861.5,1227.42 862.7,1227.07 863.9,1226.97 865.1,1226.54 866.3,1226.17 867.5,1226 868.7,1225.15 869.9,1224.41 871.1,1224.46 872.3,1224.05 873.5,1223.32 874.7,1222.78 875.9,1222.25 877.1,1221.44 878.3,1220.73 879.5,1220.15 880.7,1219.38 881.9,1218.52 883.1,1217.67 884.3,1216.74 885.5,1215.82 886.7,1215.39 887.9,1214.84 889.1,1213.64 890.3,1212.41 891.5,1211.82 892.7,1211.31 893.9,1210.37 895.1,1209.51 896.3,1208.15 897.5,1206.27 898.6,1203 900.1,1200 900.1,1238.1 900.1,1238.1 910.7,1238.1" fill="none" stroke="#0d0d0d" stroke-width="3.2" stroke-linejoin="round" stroke-linecap="round"/>
<polyline points="641.9,1239.2 653,1239.2 653.1,1261 653.3,1254.8 655.4,1254.57 656.4,1254.5 657.4,1253.54 658.4,1254.11 659.4,1253.63 660.4,1252.73 661.4,1253.04 662.4,1253.04 663.4,1252.44 664.4,1252.39 665.4,1252.61 666.4,1252.82 667.4,1252.25 668.4,1251.69 669.4,1252.64 670.4,1253.51 671.4,1252.45 672.4,1251.94 673.4,1252.06 674.4,1251.44 675.4,1251.42 676.4,1251.52 677.4,1252.16 678.4,1252.52 679.4,1252.13 680.4,1251.69 681.4,1251.63 682.4,1251.69 683.4,1251.95 684.4,1251.73 685.4,1251.41 686.4,1251.59 687.4,1251.56 688.4,1251.68 689.4,1251.76 690.4,1252.16 691.4,1252.07 692.4,1252.16 693.4,1252.09 694.4,1251.36 695.4,1251.53 696.4,1251.86 697.4,1251.95 698.4,1252.32 699.4,1252.67 700.4,1252.42 701.4,1251.91 702.4,1251.73 703.4,1252.42 704.4,1252.58 705.4,1251.62 706.4,1251.33 707.4,1251.65 708.4,1252.38 709.4,1252.6 710.4,1253.06 711.4,1253.39 712.4,1252.65 713.4,1252.3 714.4,1252.66 715.4,1252.78 716.4,1252.17 717.4,1252.52 718.4,1252.87 719.4,1253.15 720.4,1253.16 721.4,1251.71 722.4,1252.07 723.4,1252.47 724.4,1252.78 725.4,1254.17 726.4,1253.48 727.4,1252.41 728.4,1252.08 729.4,1252.85 730.4,1253.31 731.4,1252.79 732.4,1252.78 733.4,1253.78 734.4,1254 735.4,1253.5 736.4,1253.66 737.4,1253.75 738.4,1253.85 739.4,1253.2 740.4,1252.72 741.4,1252.69 742.4,1252.49 743.4,1253.17 744.4,1253.23 745.4,1252.76 746.4,1252.66 747.4,1252.44 748.4,1252.96 749.4,1252.98 750.4,1252.48 751.4,1252.79 752.4,1253.12 753.4,1253.19 754.4,1253.02 755.4,1252.04 756.4,1252.16 757.4,1252.94 758.4,1253.04 759.4,1252.49 760.4,1252.99 761.4,1252.79 762.4,1252.07 763.4,1252.48 764.4,1251.97 765.4,1252.19 766.4,1252.2 767.4,1250.97 768.4,1250.58 769.4,1251.53 770.4,1252.71 771.4,1251.92 772.4,1251.17 773.4,1251.78 774.4,1251.75 775.4,1251.07 776.4,1250.31 777.4,1249.71 778.4,1249.65 779.4,1249.8 780.4,1249.22 781.4,1248.69 782.4,1249.16 783.4,1249.29 784.4,1248.83 785.4,1248.62 786.4,1248.38 787.4,1248.48 788.4,1248.83 789.4,1248.84 790.4,1248.29 791.4,1247.63 792.4,1247.5 793.4,1247.42 794.4,1247.08 795.4,1246.61 796.4,1245.72 797.4,1244.64 798.4,1244.66 799.4,1244.67 800.4,1244.05 801.4,1243.47 802.4,1242.78 803.4,1242.99 804.4,1243.06 805.4,1242.05 806.4,1241.65 807.4,1241.6 808.4,1241.24 809.4,1241.32 810.4,1240.76 811.4,1239.44 812.4,1239.03 813.4,1238.76 814.4,1238.44 815.4,1238.2 816.4,1237.68 817.4,1237.01 818.4,1236.55 819.4,1236.08 820.4,1235.61 821.4,1235.15 822.4,1234.2 823.4,1233.85 824.4,1233.37 825.4,1232.99 826.4,1232.62 827.4,1231.69 828.4,1230.9 829.4,1230.04 830.4,1228.67 831.4,1228.25 832.4,1227.91 833.4,1227.08 834.4,1226.36 835.4,1225.3 836.4,1224.6 837.4,1223.55 838.4,1222.71 839.4,1222.21 840.4,1221.23 841.4,1219.84 842.4,1218.82 843.4,1218.2 844.4,1217.6 845.4,1216.69 846.4,1215.39 847.4,1213.82 848.4,1212.83 849.4,1211.91 850.4,1210.41 851.4,1209.41 852.4,1208.39 853.4,1207.04 854.4,1205.33 855.4,1203.78 856.4,1202.35 857.4,1201.25 858.4,1200.37 859.4,1199.23 860.4,1197.94 861.4,1196.26 862.4,1195.4 863.4,1193.88 864.4,1191.65 865.4,1190.39 866.4,1189.48 867.4,1188.13 868.4,1186.44 869.4,1184.75 870.4,1183.71 871.4,1182.27 872.4,1180.03 873.4,1178.54 874.4,1176.97 875.4,1175.29 876.4,1174.18 877.4,1172.46 878.4,1170.42 879.4,1168.73 880.4,1166.98 881.4,1165.55 882.4,1163.99 883.4,1161.95 884.4,1159.82 885.4,1158.12 886.4,1156.8 887.4,1155.05 888.4,1153.01 889.4,1150.76 890.4,1149.23 891.4,1147.49 892.4,1145.09 893.4,1143.54 894.4,1142.04 895.4,1140.28 896.4,1138.17 897.4,1136.13 898.4,1134.13 899.1,1132.9 899.4,1132.4 900.2,1241.1 900.8,1238.3 910.7,1238.3" fill="none" stroke="#e2312b" stroke-width="3.2" stroke-linejoin="round" stroke-linecap="round"/>
<polyline points="955.2,1238 966.5,1238 966.5,1237 966.5,1240.1 967.8,1239.92 969,1240 970.2,1240.05 971.4,1239.98 972.6,1240.03 973.8,1240.06 975,1240.14 976.2,1240.02 977.4,1239.9 978.6,1240.07 979.8,1240.02 981,1239.96 982.2,1240.13 983.4,1240.17 984.6,1240.13 985.8,1240.01 987,1239.99 988.2,1239.99 989.4,1239.98 990.6,1239.84 991.8,1239.71 993,1239.9 994.2,1240.1 995.4,1240.1 996.6,1240.11 997.8,1240.12 999,1240.24 1000.2,1240.29 1001.4,1240.18 1002.6,1240.02 1003.8,1240.07 1005,1240.19 1006.2,1240.07 1007.4,1240.01 1008.6,1240.01 1009.8,1240.01 1011,1240.09 1012.2,1240.18 1013.4,1240.07 1014.6,1239.93 1015.8,1239.83 1017,1239.84 1018.2,1240.02 1019.4,1240.01 1020.6,1239.75 1021.8,1239.79 1023,1239.8 1024.2,1239.64 1025.4,1239.71 1026.6,1239.75 1027.8,1239.77 1029,1239.79 1030.2,1239.69 1031.4,1239.77 1032.6,1239.81 1033.8,1239.75 1035,1239.91 1036.2,1239.92 1037.4,1239.87 1038.6,1239.8 1039.8,1239.75 1041,1239.82 1042.2,1239.88 1043.4,1239.78 1044.6,1239.7 1045.8,1239.57 1047,1239.44 1048.2,1239.53 1049.4,1239.62 1050.6,1239.61 1051.8,1239.61 1053,1239.79 1054.2,1239.63 1055.4,1239.38 1056.6,1239.61 1057.8,1239.66 1059,1239.49 1060.2,1239.45 1061.4,1239.4 1062.6,1239.44 1063.8,1239.34 1065,1239.27 1066.2,1239.23 1067.4,1239.44 1068.6,1239.64 1069.8,1239.32 1071,1239.01 1072.2,1239.12 1073.4,1239.29 1074.6,1239.17 1075.8,1239.1 1077,1239.14 1078.2,1239.13 1079.4,1239.18 1080.6,1239.22 1081.8,1238.98 1083,1238.84 1084.2,1239.02 1085.4,1238.89 1086.6,1238.76 1087.8,1238.85 1089,1238.81 1090.2,1238.68 1091.4,1238.77 1092.6,1238.72 1093.8,1238.45 1095,1238.46 1096.2,1238.35 1097.4,1238.51 1098.6,1238.59 1099.8,1238.52 1101,1238.46 1102.2,1238.64 1103.4,1238.43 1104.6,1238.35 1105.8,1238.26 1107,1237.76 1108.2,1237.99 1109.4,1238.2 1110.6,1238.39 1111.8,1238.01 1113,1237.8 1114.2,1237.89 1115.4,1237.72 1116.6,1237.89 1117.8,1238.01 1119,1237.93 1120.2,1237.98 1121.4,1237.69 1122.6,1237.52 1123.8,1237.69 1125,1237.52 1126.2,1237.38 1127.4,1237.42 1128.6,1237.37 1129.8,1237.33 1131,1237.35 1132.2,1236.85 1133.4,1236.59 1134.6,1236.7 1135.8,1236.49 1137,1236.41 1138.2,1236.39 1139.4,1236.2 1140.6,1235.8 1141.8,1235.67 1143,1235.79 1144.2,1235.66 1145.4,1235.72 1146.6,1235.54 1147.8,1235.04 1149,1234.99 1150.2,1235.1 1151.4,1234.79 1152.6,1234.43 1153.8,1234.13 1155,1234.14 1156.2,1234.1 1157.4,1233.71 1158.6,1233.73 1159.8,1233.65 1161,1233.17 1162.2,1232.89 1163.4,1232.69 1164.6,1232.26 1165.8,1231.73 1167,1231.27 1168.2,1231.37 1169.4,1231.69 1170.6,1231.39 1171.8,1230.99 1173,1230.8 1174.2,1230.72 1175.4,1230.31 1176.6,1229.76 1177.8,1229.53 1179,1229.47 1180.2,1229.16 1181.4,1228.59 1182.6,1228.25 1183.8,1227.83 1185,1227.34 1186.2,1226.89 1187.4,1226.56 1188.6,1226.16 1189.8,1225.33 1191,1224.71 1192.2,1224.48 1193.4,1224.04 1194.6,1223.48 1195.8,1222.86 1197,1222.11 1198.2,1221.7 1199.4,1221 1200.6,1219.78 1201.8,1219.02 1203,1218.13 1204.2,1216.94 1205.4,1215.67 1206.6,1214.08 1207.8,1212.96 1209,1212.62 1210.2,1212.85 1211,1213.8 1212.9,1210.8 1212.9,1237.8 1212.9,1237.8 1223.5,1237.8" fill="none" stroke="#0d0d0d" stroke-width="3.2" stroke-linejoin="round" stroke-linecap="round"/>
<polyline points="955.2,1238 966.8,1238 966.9,1265.7 967.1,1251.3 969.6,1250.2 970.6,1250.37 971.6,1250.15 972.6,1250.03 973.6,1250.17 974.6,1249.74 975.6,1249.94 976.6,1250.45 977.6,1250.04 978.6,1249.84 979.6,1250.06 980.6,1250.01 981.6,1249.81 982.6,1249.52 983.6,1249.67 984.6,1250 985.6,1249.9 986.6,1249.5 987.6,1249.79 988.6,1250.14 989.6,1249.65 990.6,1250.05 991.6,1250.1 992.6,1249.29 993.6,1249.18 994.6,1248.97 995.6,1249.27 996.6,1249.67 997.6,1249.24 998.6,1249.56 999.6,1249.33 1000.6,1249.18 1001.6,1249.07 1002.6,1248.78 1003.6,1248.95 1004.6,1249.41 1005.6,1250.07 1006.6,1249.64 1007.6,1249.42 1008.6,1249.43 1009.6,1249.36 1010.6,1249.21 1011.6,1248.68 1012.6,1248.43 1013.6,1248.89 1014.6,1249.79 1015.6,1249.75 1016.6,1249.12 1017.6,1249.48 1018.6,1249.64 1019.6,1249.22 1020.6,1249.22 1021.6,1249.16 1022.6,1249.02 1023.6,1248.72 1024.6,1248.9 1025.6,1249.2 1026.6,1249.35 1027.6,1249.29 1028.6,1248.59 1029.6,1248.65 1030.6,1249.46 1031.6,1249.4 1032.6,1248.81 1033.6,1248.63 1034.6,1248.6 1035.6,1248.8 1036.6,1248.78 1037.6,1249.19 1038.6,1249.39 1039.6,1249.08 1040.6,1249.47 1041.6,1249.79 1042.6,1249.43 1043.6,1249.17 1044.6,1249.38 1045.6,1249.27 1046.6,1248.71 1047.6,1248.91 1048.6,1249.52 1049.6,1249.47 1050.6,1249.06 1051.6,1248.93 1052.6,1249.01 1053.6,1249 1054.6,1249.43 1055.6,1249.85 1056.6,1249.72 1057.6,1249.5 1058.6,1249.51 1059.6,1249.39 1060.6,1249.23 1061.6,1249.09 1062.6,1249.1 1063.6,1249.77 1064.6,1249.98 1065.6,1249.4 1066.6,1249.11 1067.6,1248.99 1068.6,1249.19 1069.6,1249.48 1070.6,1249.08 1071.6,1249.11 1072.6,1249.31 1073.6,1249.53 1074.6,1249.7 1075.6,1249.77 1076.6,1249.64 1077.6,1249.19 1078.6,1249.37 1079.6,1249.67 1080.6,1249.74 1081.6,1249.23 1082.6,1249.14 1083.6,1249.43 1084.6,1249.3 1085.6,1249.15 1086.6,1249.64 1087.6,1249.7 1088.6,1249.12 1089.6,1249.35 1090.6,1249.57 1091.6,1249.41 1092.6,1249.56 1093.6,1249.58 1094.6,1249.42 1095.6,1249.39 1096.6,1249.24 1097.6,1248.81 1098.6,1248.52 1099.6,1248.36 1100.6,1248.27 1101.6,1248 1102.6,1247.46 1103.6,1247.45 1104.6,1247.31 1105.6,1246.73 1106.6,1246.76 1107.6,1246.71 1108.6,1246.45 1109.6,1246.2 1110.6,1245.63 1111.6,1245.2 1112.6,1244.98 1113.6,1244.79 1114.6,1244.38 1115.6,1244.01 1116.6,1243.51 1117.6,1243.17 1118.6,1242.73 1119.6,1242.31 1120.6,1242.33 1121.6,1242.15 1122.6,1241.91 1123.6,1241.05 1124.6,1240.45 1125.6,1240.48 1126.6,1240.05 1127.6,1239.21 1128.6,1238.61 1129.6,1238.55 1130.6,1237.67 1131.6,1236.86 1132.6,1236.71 1133.6,1235.89 1134.6,1235.16 1135.6,1234.43 1136.6,1233.52 1137.6,1232.88 1138.6,1232.33 1139.6,1231.72 1140.6,1231.08 1141.6,1230.15 1142.6,1229.15 1143.6,1228.64 1144.6,1227.9 1145.6,1226.62 1146.6,1225.73 1147.6,1224.93 1148.6,1223.91 1149.6,1223.04 1150.6,1222.14 1151.6,1221.04 1152.6,1219.41 1153.6,1218.02 1154.6,1217.29 1155.6,1216.27 1156.6,1215.09 1157.6,1213.87 1158.6,1212.2 1159.6,1210.95 1160.6,1209.51 1161.6,1207.5 1162.6,1206.48 1163.6,1204.95 1164.6,1203.13 1165.6,1201.97 1166.6,1200.2 1167.6,1198.01 1168.6,1196.36 1169.6,1194.57 1170.6,1192.29 1171.6,1190.56 1172.6,1188.96 1173.6,1187.08 1174.6,1185.04 1175.6,1182.82 1176.6,1180.5 1177.6,1178.19 1178.6,1175.91 1179.6,1173.91 1180.6,1171.57 1181.6,1169.16 1182.6,1166.66 1183.6,1163.96 1184.6,1161.47 1185.6,1158.89 1186.6,1156.28 1187.6,1153.59 1188.6,1151.01 1189.6,1148.13 1190.6,1144.97 1191.6,1141.99 1192.6,1139.16 1193.6,1136.54 1194.6,1133.46 1195.6,1130.35 1196.6,1127.58 1197.6,1124.52 1198.6,1121.23 1199.6,1118.31 1200.6,1115.27 1201.6,1111.97 1202.6,1108.89 1203.6,1105.72 1204.6,1102.15 1205.6,1098.56 1206.6,1095.37 1207.6,1092.17 1208.6,1088.53 1209.6,1085.5 1210.6,1082.56 1211.5,1079.4 1212.2,1078.9 1213,1239.8 1213.6,1237.8 1223.5,1237.8" fill="none" stroke="#e2312b" stroke-width="3.2" stroke-linejoin="round" stroke-linecap="round"/>
<polyline points="1268.6,1237.6 1279.2,1237.6 1279.2,1232.8 1279.2,1241.8 1281.3,1241.88 1282.5,1241.78 1283.7,1241.88 1284.9,1241.9 1286.1,1241.87 1287.3,1241.81 1288.5,1241.79 1289.7,1241.74 1290.9,1241.74 1292.1,1241.77 1293.3,1241.83 1294.5,1241.84 1295.7,1241.82 1296.9,1241.73 1298.1,1241.68 1299.3,1241.78 1300.5,1241.79 1301.7,1241.81 1302.9,1241.92 1304.1,1241.98 1305.3,1241.85 1306.5,1241.82 1307.7,1241.86 1308.9,1241.84 1310.1,1241.92 1311.3,1241.9 1312.5,1241.85 1313.7,1241.8 1314.9,1241.72 1316.1,1241.84 1317.3,1241.94 1318.5,1241.84 1319.7,1241.79 1320.9,1241.76 1322.1,1241.73 1323.3,1241.81 1324.5,1241.83 1325.7,1241.81 1326.9,1241.76 1328.1,1241.78 1329.3,1241.82 1330.5,1241.82 1331.7,1241.82 1332.9,1241.73 1334.1,1241.72 1335.3,1241.79 1336.5,1241.77 1337.7,1241.76 1338.9,1241.87 1340.1,1241.79 1341.3,1241.74 1342.5,1241.9 1343.7,1241.93 1344.9,1241.84 1346.1,1241.77 1347.3,1241.81 1348.5,1241.81 1349.7,1241.8 1350.9,1241.86 1352.1,1241.88 1353.3,1241.91 1354.5,1241.82 1355.7,1241.71 1356.9,1241.68 1358.1,1241.56 1359.3,1241.51 1360.5,1241.51 1361.7,1241.45 1362.9,1241.29 1364.1,1241.16 1365.3,1241.15 1366.5,1241.06 1367.7,1241.16 1368.9,1241.17 1370.1,1241.05 1371.3,1241.12 1372.5,1241.05 1373.7,1241.01 1374.9,1240.77 1376.1,1240.51 1377.3,1240.51 1378.5,1240.55 1379.7,1240.68 1380.9,1240.51 1382.1,1240.5 1383.3,1240.35 1384.5,1240.12 1385.7,1240.15 1386.9,1240.01 1388.1,1239.91 1389.3,1239.8 1390.5,1239.83 1391.7,1239.94 1392.9,1239.82 1394.1,1239.76 1395.3,1239.86 1396.5,1239.94 1397.7,1239.84 1398.9,1239.67 1400.1,1239.6 1401.3,1239.42 1402.5,1239.23 1403.7,1239.38 1404.9,1239.31 1406.1,1238.99 1407.3,1239.03 1408.5,1239.11 1409.7,1239.04 1410.9,1238.98 1412.1,1238.75 1413.3,1238.49 1414.5,1238.51 1415.7,1238.55 1416.9,1238.54 1418.1,1238.5 1419.3,1238.33 1420.5,1238.24 1421.7,1238.15 1422.9,1238 1424.1,1237.94 1425.3,1237.79 1426.5,1237.69 1427.7,1237.72 1428.9,1237.81 1430.1,1237.66 1431.3,1237.45 1432.5,1237.38 1433.7,1237.3 1434.9,1237.36 1436.1,1237.26 1437.3,1237.12 1438.5,1237.23 1439.7,1237.07 1440.9,1236.63 1442.1,1236.42 1443.3,1236.53 1444.5,1236.6 1445.7,1236.34 1446.9,1236.16 1448.1,1236.23 1449.3,1236.29 1450.5,1236.18 1451.7,1236.08 1452.9,1235.76 1454.1,1235.51 1455.3,1235.51 1456.5,1235.31 1457.7,1235.09 1458.9,1234.97 1460.1,1234.86 1461.3,1234.69 1462.5,1234.33 1463.7,1234.1 1464.9,1234.03 1466.1,1233.67 1467.3,1233.35 1468.5,1233.21 1469.7,1233.03 1470.9,1232.92 1472.1,1232.46 1473.3,1232.11 1474.5,1232.09 1475.7,1231.77 1476.9,1231.33 1478.1,1231.08 1479.3,1230.85 1480.5,1230.48 1481.7,1230.02 1482.9,1229.59 1484.1,1229.32 1485.3,1229.08 1486.5,1228.86 1487.7,1228.38 1488.9,1227.98 1490.1,1227.59 1491.3,1226.94 1492.5,1226.59 1493.7,1226.26 1494.9,1225.83 1496.1,1225.63 1497.3,1224.93 1498.5,1224.15 1499.7,1223.66 1500.9,1223.08 1502.1,1222.78 1503.3,1222.33 1504.5,1221.72 1505.7,1221.25 1506.9,1220.82 1508.1,1220.16 1509.3,1219.62 1510.5,1219.33 1511.7,1218.9 1512.9,1218.3 1514.1,1217.68 1515.3,1216.98 1516.5,1216.31 1517.7,1215.83 1518.9,1215.43 1520.1,1215.28 1521.3,1214.53 1522.5,1213.57 1523.6,1213.4 1526.1,1210.4 1526.1,1237.6 1526.1,1237.6 1536.7,1237.6" fill="none" stroke="#0d0d0d" stroke-width="3.2" stroke-linejoin="round" stroke-linecap="round"/>
<polyline points="1268.6,1237.6 1279.5,1237.6 1279.6,1246.2 1279.8,1246.5 1280.6,1245.34 1281.6,1245.37 1282.6,1245.46 1283.6,1245.4 1284.6,1245.28 1285.6,1245.27 1286.6,1245.42 1287.6,1245.4 1288.6,1245.5 1289.6,1245.77 1290.6,1245.74 1291.6,1245.62 1292.6,1245.8 1293.6,1245.77 1294.6,1245.74 1295.6,1245.59 1296.6,1245.4 1297.6,1245.65 1298.6,1245.74 1299.6,1245.6 1300.6,1245.63 1301.6,1245.68 1302.6,1245.63 1303.6,1245.55 1304.6,1245.52 1305.6,1245.6 1306.6,1245.52 1307.6,1245.25 1308.6,1245.3 1309.6,1245.82 1310.6,1245.53 1311.6,1245.15 1312.6,1245.43 1313.6,1245.57 1314.6,1245.73 1315.6,1245.82 1316.6,1245.84 1317.6,1245.88 1318.6,1245.66 1319.6,1245.5 1320.6,1245.52 1321.6,1245.58 1322.6,1245.6 1323.6,1245.45 1324.6,1245.71 1325.6,1245.81 1326.6,1245.52 1327.6,1245.64 1328.6,1245.58 1329.6,1245.44 1330.6,1245.5 1331.6,1245.34 1332.6,1245.13 1333.6,1245.36 1334.6,1245.59 1335.6,1245.53 1336.6,1245.71 1337.6,1245.69 1338.6,1245.8 1339.6,1245.72 1340.6,1245.23 1341.6,1245.4 1342.6,1245.78 1343.6,1246 1344.6,1245.91 1345.6,1245.69 1346.6,1245.74 1347.6,1246.06 1348.6,1245.89 1349.6,1245.66 1350.6,1245.87 1351.6,1245.73 1352.6,1245.7 1353.6,1245.83 1354.6,1245.78 1355.6,1245.78 1356.6,1245.96 1357.6,1246.05 1358.6,1245.92 1359.6,1245.81 1360.6,1245.87 1361.6,1246 1362.6,1246.01 1363.6,1246.05 1364.6,1246.07 1365.6,1245.71 1366.6,1245.72 1367.6,1245.76 1368.6,1245.62 1369.6,1245.61 1370.6,1245.55 1371.6,1245.46 1372.6,1245.26 1373.6,1244.96 1374.6,1244.98 1375.6,1245.06 1376.6,1244.75 1377.6,1244.79 1378.6,1244.8 1379.6,1244.59 1380.6,1244.5 1381.6,1244.39 1382.6,1244.13 1383.6,1243.9 1384.6,1244.04 1385.6,1244.23 1386.6,1244.1 1387.6,1243.93 1388.6,1243.89 1389.6,1243.9 1390.6,1243.75 1391.6,1243.64 1392.6,1243.59 1393.6,1243.32 1394.6,1243.21 1395.6,1243.04 1396.6,1242.58 1397.6,1242.66 1398.6,1242.75 1399.6,1242.77 1400.6,1242.55 1401.6,1242.31 1402.6,1242.29 1403.6,1242.09 1404.6,1241.86 1405.6,1241.97 1406.6,1241.93 1407.6,1241.76 1408.6,1241.65 1409.6,1241.15 1410.6,1240.94 1411.6,1241.09 1412.6,1240.98 1413.6,1240.71 1414.6,1240.79 1415.6,1240.77 1416.6,1240.35 1417.6,1240.06 1418.6,1240.21 1419.6,1240.03 1420.6,1239.82 1421.6,1239.76 1422.6,1239.36 1423.6,1239.22 1424.6,1239.13 1425.6,1238.96 1426.6,1238.78 1427.6,1238.68 1428.6,1238.6 1429.6,1238.47 1430.6,1238.19 1431.6,1237.9 1432.6,1237.99 1433.6,1237.98 1434.6,1237.82 1435.6,1237.62 1436.6,1237.26 1437.6,1237.06 1438.6,1237.07 1439.6,1236.9 1440.6,1236.76 1441.6,1236.53 1442.6,1236.38 1443.6,1236.25 1444.6,1235.9 1445.6,1235.6 1446.6,1235.65 1447.6,1235.51 1448.6,1235.09 1449.6,1234.85 1450.6,1235.01 1451.6,1235.2 1452.6,1234.67 1453.6,1234.04 1454.6,1233.83 1455.6,1233.74 1456.6,1233.55 1457.6,1233.42 1458.6,1233.12 1459.6,1232.81 1460.6,1232.71 1461.6,1232.49 1462.6,1232.21 1463.6,1231.81 1464.6,1231.44 1465.6,1231.25 1466.6,1230.78 1467.6,1230.45 1468.6,1230.18 1469.6,1229.8 1470.6,1229.26 1471.6,1228.8 1472.6,1228.53 1473.6,1228.19 1474.6,1227.82 1475.6,1227.15 1476.6,1226.83 1477.6,1226.42 1478.6,1225.75 1479.6,1225.27 1480.6,1224.83 1481.6,1224.38 1482.6,1223.91 1483.6,1223.61 1484.6,1223.3 1485.6,1222.82 1486.6,1222.41 1487.6,1221.8 1488.6,1221.03 1489.6,1220.28 1490.6,1219.69 1491.6,1219.27 1492.6,1218.89 1493.6,1218.23 1494.6,1217.66 1495.6,1217.3 1496.6,1216.47 1497.6,1215.61 1498.6,1215 1499.6,1214.3 1500.6,1213.52 1501.6,1212.88 1502.6,1212.38 1503.6,1211.51 1504.6,1210.84 1505.6,1210.58 1506.6,1209.92 1507.6,1209.18 1508.6,1208.12 1509.6,1207.05 1510.6,1206.64 1511.6,1206.03 1512.6,1205.23 1513.6,1204.45 1514.6,1203.62 1515.6,1202.73 1516.6,1201.85 1517.6,1201.31 1518.6,1200.64 1519.6,1199.78 1520.6,1199.12 1521.6,1198.32 1522.6,1197.35 1523.6,1196.69 1524.6,1196.22 1525,1196.1 1525.4,1195.6 1526.2,1238.3 1526.8,1237.6 1536.7,1237.6" fill="none" stroke="#e2312b" stroke-width="3.2" stroke-linejoin="round" stroke-linecap="round"/>
<polyline points="1581.5,1236.5 1592.2,1236.5 1592.2,1235 1592.2,1239.4 1594,1239.51 1595.2,1239.46 1596.4,1239.34 1597.6,1239.33 1598.8,1239.37 1600,1239.37 1601.2,1239.34 1602.4,1239.29 1603.6,1239.34 1604.8,1239.37 1606,1239.28 1607.2,1239.35 1608.4,1239.38 1609.6,1239.33 1610.8,1239.41 1612,1239.44 1613.2,1239.48 1614.4,1239.47 1615.6,1239.37 1616.8,1239.35 1618,1239.32 1619.2,1239.31 1620.4,1239.39 1621.6,1239.45 1622.8,1239.32 1624,1239.29 1625.2,1239.37 1626.4,1239.47 1627.6,1239.57 1628.8,1239.4 1630,1239.25 1631.2,1239.19 1632.4,1239.26 1633.6,1239.34 1634.8,1239.35 1636,1239.35 1637.2,1239.22 1638.4,1239.17 1639.6,1239.19 1640.8,1239.24 1642,1239.29 1643.2,1239.26 1644.4,1239.25 1645.6,1239.37 1646.8,1239.43 1648,1239.38 1649.2,1239.45 1650.4,1239.3 1651.6,1239.21 1652.8,1239.28 1654,1239.39 1655.2,1239.38 1656.4,1239.17 1657.6,1239.2 1658.8,1239.24 1660,1239.27 1661.2,1239.26 1662.4,1239.15 1663.6,1239.13 1664.8,1239.03 1666,1239.03 1667.2,1239.12 1668.4,1239.14 1669.6,1239.19 1670.8,1239.19 1672,1239.14 1673.2,1239.05 1674.4,1239.11 1675.6,1239.21 1676.8,1239.23 1678,1239.21 1679.2,1239.09 1680.4,1239.04 1681.6,1239.04 1682.8,1239.05 1684,1239.09 1685.2,1239.07 1686.4,1238.97 1687.6,1238.93 1688.8,1238.99 1690,1239.02 1691.2,1238.97 1692.4,1238.98 1693.6,1238.91 1694.8,1238.83 1696,1238.88 1697.2,1238.82 1698.4,1238.69 1699.6,1238.65 1700.8,1238.85 1702,1238.68 1703.2,1238.5 1704.4,1238.64 1705.6,1238.76 1706.8,1238.66 1708,1238.42 1709.2,1238.34 1710.4,1238.26 1711.6,1238.37 1712.8,1238.38 1714,1238.39 1715.2,1238.25 1716.4,1238.02 1717.6,1238.11 1718.8,1238.04 1720,1237.89 1721.2,1237.97 1722.4,1237.89 1723.6,1237.94 1724.8,1238.08 1726,1237.96 1727.2,1237.75 1728.4,1237.72 1729.6,1237.68 1730.8,1237.55 1732,1237.63 1733.2,1237.56 1734.4,1237.44 1735.6,1237.2 1736.8,1237.15 1738,1237.23 1739.2,1237.11 1740.4,1237.25 1741.6,1237.19 1742.8,1237.03 1744,1236.91 1745.2,1236.82 1746.4,1236.84 1747.6,1236.68 1748.8,1236.63 1750,1236.73 1751.2,1236.72 1752.4,1236.56 1753.6,1236.22 1754.8,1236.21 1756,1236.25 1757.2,1236.05 1758.4,1235.92 1759.6,1235.76 1760.8,1235.76 1762,1235.97 1763.2,1235.91 1764.4,1235.75 1765.6,1235.67 1766.8,1235.37 1768,1235.06 1769.2,1235.06 1770.4,1235.24 1771.6,1235.05 1772.8,1234.79 1774,1234.73 1775.2,1234.6 1776.4,1234.49 1777.6,1234.36 1778.8,1234.12 1780,1233.73 1781.2,1233.63 1782.4,1233.67 1783.6,1233.49 1784.8,1233.49 1786,1233.37 1787.2,1232.98 1788.4,1232.61 1789.6,1232.33 1790.8,1231.98 1792,1231.88 1793.2,1231.84 1794.4,1231.63 1795.6,1231.49 1796.8,1231.12 1798,1230.92 1799.2,1230.69 1800.4,1230.24 1801.6,1230 1802.8,1229.79 1804,1229.48 1805.2,1229.18 1806.4,1229.05 1807.6,1228.65 1808.8,1228.33 1810,1228.05 1811.2,1227.48 1812.4,1226.98 1813.6,1226.55 1814.8,1226.22 1816,1225.81 1817.2,1225.47 1818.4,1225.2 1819.6,1224.65 1820.8,1224.06 1822,1223.66 1823.2,1223.26 1824.4,1223.05 1825.6,1222.68 1826.8,1221.97 1828,1221.5 1829.2,1221.02 1830.4,1220.56 1831.6,1220.02 1832.8,1219.44 1834,1219.02 1835.2,1218.77 1836.3,1218.4 1839.8,1215.4 1839.8,1243.3 1839.8,1236.2 1850.5,1236.2" fill="none" stroke="#0d0d0d" stroke-width="3.2" stroke-linejoin="round" stroke-linecap="round"/>
<polyline points="1581.5,1236.5 1592.5,1236.5 1592.6,1249.4 1592.8,1243.7 1594,1242.61 1595,1242.34 1596,1242.4 1597,1242.66 1598,1242.6 1599,1242.67 1600,1242.78 1601,1242.63 1602,1242.48 1603,1242.55 1604,1242.72 1605,1242.84 1606,1242.61 1607,1242.42 1608,1242.65 1609,1242.96 1610,1242.87 1611,1242.62 1612,1242.74 1613,1242.79 1614,1242.74 1615,1242.95 1616,1242.94 1617,1242.77 1618,1242.78 1619,1242.7 1620,1242.6 1621,1242.61 1622,1242.6 1623,1242.61 1624,1242.61 1625,1242.62 1626,1242.66 1627,1242.7 1628,1242.73 1629,1242.88 1630,1242.67 1631,1242.66 1632,1242.8 1633,1242.52 1634,1242.52 1635,1242.67 1636,1242.81 1637,1242.68 1638,1242.58 1639,1242.71 1640,1242.5 1641,1242.35 1642,1242.61 1643,1242.82 1644,1242.87 1645,1242.85 1646,1242.77 1647,1242.72 1648,1242.81 1649,1242.7 1650,1242.55 1651,1242.69 1652,1242.52 1653,1242.62 1654,1242.71 1655,1242.55 1656,1242.89 1657,1242.8 1658,1242.49 1659,1242.76 1660,1242.7 1661,1242.47 1662,1242.65 1663,1242.75 1664,1242.75 1665,1242.74 1666,1242.82 1667,1242.89 1668,1242.81 1669,1242.61 1670,1242.46 1671,1242.32 1672,1242.48 1673,1242.48 1674,1242.5 1675,1242.92 1676,1242.69 1677,1242.4 1678,1242.47 1679,1242.63 1680,1242.58 1681,1242.46 1682,1242.48 1683,1242.44 1684,1242.62 1685,1242.51 1686,1242.34 1687,1242.45 1688,1242.5 1689,1242.29 1690,1242.27 1691,1242.42 1692,1242.35 1693,1242.26 1694,1241.92 1695,1241.79 1696,1242.02 1697,1242.04 1698,1241.89 1699,1242.04 1700,1242.06 1701,1241.88 1702,1241.81 1703,1241.62 1704,1241.3 1705,1241.44 1706,1241.51 1707,1241.44 1708,1241.43 1709,1241.33 1710,1241.29 1711,1241.24 1712,1241.03 1713,1240.97 1714,1241.02 1715,1241.06 1716,1240.91 1717,1240.71 1718,1240.69 1719,1240.61 1720,1240.68 1721,1240.64 1722,1240.42 1723,1240.32 1724,1240.33 1725,1240.17 1726,1240.02 1727,1240.11 1728,1240.1 1729,1239.91 1730,1239.73 1731,1239.64 1732,1239.48 1733,1239.47 1734,1239.51 1735,1239.36 1736,1239.15 1737,1239 1738,1239.02 1739,1238.98 1740,1238.81 1741,1238.72 1742,1238.7 1743,1238.51 1744,1238.29 1745,1238.16 1746,1237.99 1747,1237.98 1748,1237.96 1749,1237.79 1750,1237.54 1751,1237.3 1752,1237.23 1753,1237.12 1754,1236.97 1755,1236.79 1756,1236.66 1757,1236.66 1758,1236.54 1759,1236.35 1760,1236.07 1761,1235.83 1762,1235.6 1763,1235.39 1764,1235.18 1765,1234.86 1766,1234.61 1767,1234.45 1768,1234.27 1769,1233.99 1770,1233.64 1771,1233.39 1772,1233.11 1773,1232.94 1774,1232.77 1775,1232.43 1776,1232.17 1777,1231.78 1778,1231.42 1779,1231.25 1780,1231.16 1781,1230.8 1782,1230.36 1783,1230.15 1784,1229.79 1785,1229.39 1786,1229.18 1787,1229 1788,1228.71 1789,1228.53 1790,1228.27 1791,1227.91 1792,1227.75 1793,1227.57 1794,1227.07 1795,1226.65 1796,1226.56 1797,1226.2 1798,1225.76 1799,1225.47 1800,1225.12 1801,1224.81 1802,1224.57 1803,1224.39 1804,1224.11 1805,1223.65 1806,1223.02 1807,1222.62 1808,1222.31 1809,1221.92 1810,1221.49 1811,1220.9 1812,1220.47 1813,1219.98 1814,1219.42 1815,1219.09 1816,1218.65 1817,1218.2 1818,1217.45 1819,1216.76 1820,1216.34 1821,1215.66 1822,1215.02 1823,1214.33 1824,1213.71 1825,1213.2 1826,1212.47 1827,1211.76 1828,1211.17 1829,1210.52 1830,1209.93 1831,1209.29 1832,1208.59 1833,1207.93 1834,1207.09 1835,1206.24 1836,1205.4 1837,1204.58 1838,1203.79 1838.6,1203.4 1839.1,1202.9 1839.9,1237 1840.5,1236.2 1850.5,1236.2" fill="none" stroke="#e2312b" stroke-width="3.2" stroke-linejoin="round" stroke-linecap="round"/>
<polyline points="1894.6,1237.3 1905.3,1237.3 1905.3,1226.1 1905.3,1239.6 1906.5,1239.76 1907.7,1239.48 1908.9,1239.42 1910.1,1239.73 1911.3,1239.92 1912.5,1239.91 1913.7,1239.9 1914.9,1239.83 1916.1,1239.74 1917.3,1239.66 1918.5,1239.63 1919.7,1239.58 1920.9,1239.48 1922.1,1239.61 1923.3,1239.7 1924.5,1239.76 1925.7,1239.61 1926.9,1239.44 1928.1,1239.6 1929.3,1239.67 1930.5,1239.56 1931.7,1239.39 1932.9,1239.1 1934.1,1239 1935.3,1239.32 1936.5,1239.54 1937.7,1239.34 1938.9,1239.38 1940.1,1239.36 1941.3,1239.28 1942.5,1239.24 1943.7,1239.25 1944.9,1239.3 1946.1,1239.29 1947.3,1239.35 1948.5,1239.18 1949.7,1239.38 1950.9,1239.69 1952.1,1239.76 1953.3,1239.61 1954.5,1239.59 1955.7,1239.65 1956.9,1239.52 1958.1,1239.46 1959.3,1239.33 1960.5,1239.27 1961.7,1239.38 1962.9,1239.08 1964.1,1239.17 1965.3,1239.3 1966.5,1239.27 1967.7,1239.48 1968.9,1239.29 1970.1,1239.14 1971.3,1239.33 1972.5,1239.29 1973.7,1239.23 1974.9,1239.28 1976.1,1239.39 1977.3,1239.57 1978.5,1239.48 1979.7,1239.34 1980.9,1239.19 1982.1,1239.26 1983.3,1239.23 1984.5,1239.33 1985.7,1239.25 1986.9,1239.17 1988.1,1239.22 1989.3,1239.1 1990.5,1239.07 1991.7,1238.98 1992.9,1238.83 1994.1,1238.84 1995.3,1239.19 1996.5,1239.26 1997.7,1239.23 1998.9,1239.3 2000.1,1239.08 2001.3,1238.98 2002.5,1239.05 2003.7,1238.99 2004.9,1238.78 2006.1,1238.88 2007.3,1239.21 2008.5,1239.06 2009.7,1238.88 2010.9,1238.74 2012.1,1238.88 2013.3,1239.21 2014.5,1239.03 2015.7,1238.73 2016.9,1238.6 2018.1,1238.48 2019.3,1238.67 2020.5,1238.47 2021.7,1238.38 2022.9,1238.93 2024.1,1238.77 2025.3,1238.29 2026.5,1238.39 2027.7,1238 2028.9,1237.66 2030.1,1238.16 2031.3,1238.41 2032.5,1238.52 2033.7,1238.63 2034.9,1238.76 2036.1,1238.46 2037.3,1238.16 2038.5,1238.29 2039.7,1238.21 2040.9,1238.13 2042.1,1238.18 2043.3,1238.12 2044.5,1238.29 2045.7,1238.21 2046.9,1238.02 2048.1,1238.12 2049.3,1237.71 2050.5,1236.95 2051.7,1236.75 2052.9,1237.22 2054.1,1237.64 2055.3,1236.98 2056.5,1237.19 2057.7,1237.73 2058.9,1237.12 2060.1,1236.4 2061.3,1236.45 2062.5,1237.36 2063.7,1237.08 2064.9,1236.44 2066.1,1236.92 2067.3,1237.01 2068.5,1236.03 2069.7,1235.46 2070.9,1235.75 2072.1,1236.06 2073.3,1236 2074.5,1235.9 2075.7,1236.22 2076.9,1236.01 2078.1,1235.63 2079.3,1235.59 2080.5,1234.8 2081.7,1234.68 2082.9,1234.88 2084.1,1235.05 2085.3,1234.95 2086.5,1234.62 2087.7,1234.69 2088.9,1234.39 2090.1,1234.24 2091.3,1234.65 2092.5,1234.78 2093.7,1234.74 2094.9,1234.47 2096.1,1234.15 2097.3,1234.23 2098.5,1234.1 2099.7,1233.85 2100.9,1233.68 2102.1,1233.38 2103.3,1233.05 2104.5,1233.24 2105.7,1232.87 2106.9,1232.31 2108.1,1232.26 2109.3,1232.58 2110.5,1232.54 2111.7,1232.2 2112.9,1231.98 2114.1,1231.71 2115.3,1231.36 2116.5,1230.91 2117.7,1230.81 2118.9,1230.76 2120.1,1230.53 2121.3,1230.57 2122.5,1229.8 2123.7,1229.3 2124.9,1229.47 2126.1,1228.62 2127.3,1228.28 2128.5,1228.04 2129.7,1227.32 2130.9,1227.43 2132.1,1227.11 2133.3,1226.43 2134.5,1226.02 2135.7,1225.54 2136.9,1225.28 2138.1,1224.88 2139.3,1224.1 2140.5,1223.71 2141.7,1223.68 2142.9,1223.16 2144.1,1222.53 2145.3,1221.71 2146.5,1221.08 2147.7,1220.79 2148.9,1220.11 2150.1,1218.9 2153,1215.9 2153,1237.3 2153,1237.3 2163.4,1237.3" fill="none" stroke="#0d0d0d" stroke-width="3.2" stroke-linejoin="round" stroke-linecap="round"/>
<polyline points="1894.6,1237.3 1905.6,1237.3 1905.7,1245.3 1905.9,1243.2 1906.5,1242.28 1907.5,1242.25 1908.5,1242.4 1909.5,1242.41 1910.5,1242.41 1911.5,1242.45 1912.5,1242.46 1913.5,1242.25 1914.5,1241.99 1915.5,1241.97 1916.5,1242.12 1917.5,1242.24 1918.5,1242.28 1919.5,1242.34 1920.5,1242.25 1921.5,1242.46 1922.5,1242.51 1923.5,1242.27 1924.5,1242.09 1925.5,1242.22 1926.5,1242.44 1927.5,1242.18 1928.5,1242.06 1929.5,1242.21 1930.5,1242.04 1931.5,1241.98 1932.5,1242.33 1933.5,1242.18 1934.5,1242.07 1935.5,1242.47 1936.5,1242.34 1937.5,1242.08 1938.5,1242.17 1939.5,1242.28 1940.5,1242.3 1941.5,1242.07 1942.5,1241.94 1943.5,1242.13 1944.5,1242.18 1945.5,1242.29 1946.5,1242.29 1947.5,1242.12 1948.5,1242.37 1949.5,1242.4 1950.5,1242.08 1951.5,1242.09 1952.5,1242.17 1953.5,1242.25 1954.5,1242.33 1955.5,1242.21 1956.5,1242.12 1957.5,1242.1 1958.5,1242.29 1959.5,1242.58 1960.5,1242.42 1961.5,1242.26 1962.5,1242.3 1963.5,1242.18 1964.5,1242.08 1965.5,1242.09 1966.5,1241.93 1967.5,1241.9 1968.5,1242.17 1969.5,1242.36 1970.5,1242.28 1971.5,1242.13 1972.5,1242.23 1973.5,1242.5 1974.5,1242.33 1975.5,1242.01 1976.5,1242.06 1977.5,1242.21 1978.5,1242.16 1979.5,1242.15 1980.5,1242.16 1981.5,1242.17 1982.5,1242.21 1983.5,1242.1 1984.5,1242.22 1985.5,1242.13 1986.5,1241.95 1987.5,1242.16 1988.5,1242.33 1989.5,1242.26 1990.5,1241.92 1991.5,1241.97 1992.5,1242.25 1993.5,1242.13 1994.5,1241.86 1995.5,1241.98 1996.5,1242.39 1997.5,1242.35 1998.5,1242.29 1999.5,1242.15 2000.5,1242.01 2001.5,1242 2002.5,1241.84 2003.5,1241.87 2004.5,1241.88 2005.5,1241.82 2006.5,1241.83 2007.5,1241.85 2008.5,1241.89 2009.5,1241.94 2010.5,1241.82 2011.5,1241.83 2012.5,1241.75 2013.5,1241.71 2014.5,1241.91 2015.5,1241.62 2016.5,1241.56 2017.5,1241.93 2018.5,1242 2019.5,1241.81 2020.5,1241.68 2021.5,1241.75 2022.5,1241.81 2023.5,1241.85 2024.5,1241.83 2025.5,1241.82 2026.5,1241.9 2027.5,1241.59 2028.5,1241.31 2029.5,1241.3 2030.5,1241.49 2031.5,1241.37 2032.5,1241.38 2033.5,1241.2 2034.5,1240.93 2035.5,1240.96 2036.5,1240.98 2037.5,1241.08 2038.5,1240.93 2039.5,1240.62 2040.5,1240.42 2041.5,1240.43 2042.5,1240.67 2043.5,1240.58 2044.5,1240.41 2045.5,1240.58 2046.5,1240.25 2047.5,1239.91 2048.5,1239.57 2049.5,1239.48 2050.5,1239.86 2051.5,1239.65 2052.5,1239.46 2053.5,1239.62 2054.5,1239.48 2055.5,1239.13 2056.5,1238.95 2057.5,1238.74 2058.5,1238.46 2059.5,1238.8 2060.5,1238.6 2061.5,1237.89 2062.5,1237.81 2063.5,1237.77 2064.5,1237.66 2065.5,1237.28 2066.5,1236.75 2067.5,1236.47 2068.5,1236.53 2069.5,1236.61 2070.5,1236.08 2071.5,1235.53 2072.5,1235.36 2073.5,1234.99 2074.5,1234.59 2075.5,1234.59 2076.5,1234.13 2077.5,1233.69 2078.5,1233.74 2079.5,1233.12 2080.5,1232.72 2081.5,1232.51 2082.5,1231.82 2083.5,1231.55 2084.5,1231.22 2085.5,1230.58 2086.5,1230.01 2087.5,1229.44 2088.5,1228.95 2089.5,1228.55 2090.5,1228.25 2091.5,1227.71 2092.5,1227.07 2093.5,1226.45 2094.5,1225.87 2095.5,1225.29 2096.5,1224.77 2097.5,1224.15 2098.5,1222.96 2099.5,1222.18 2100.5,1221.65 2101.5,1221.07 2102.5,1220.37 2103.5,1219.55 2104.5,1218.86 2105.5,1217.78 2106.5,1216.78 2107.5,1216.05 2108.5,1215.06 2109.5,1214.75 2110.5,1214.11 2111.5,1212.36 2112.5,1211.05 2113.5,1210.25 2114.5,1209.35 2115.5,1207.95 2116.5,1206.58 2117.5,1205.68 2118.5,1204.7 2119.5,1203.54 2120.5,1202.34 2121.5,1201.16 2122.5,1199.55 2123.5,1198.12 2124.5,1196.94 2125.5,1195.32 2126.5,1194.24 2127.5,1192.66 2128.5,1191.06 2129.5,1189.9 2130.5,1188.69 2131.5,1187.09 2132.5,1185.56 2133.5,1184.49 2134.5,1183.04 2135.5,1181.6 2136.5,1180.19 2137.5,1178.54 2138.5,1177.08 2139.5,1175.61 2140.5,1174.48 2141.5,1173.58 2142.5,1171.79 2143.5,1170.43 2144.5,1169.24 2145.5,1167.35 2146.5,1165.76 2147.5,1164.6 2148.5,1163.23 2149.5,1161.58 2150.5,1160.48 2151.5,1159.57 2151.8,1159.2 2152.3,1158.7 2153.1,1238.7 2153.7,1237.3 2163.4,1237.3" fill="none" stroke="#e2312b" stroke-width="3.2" stroke-linejoin="round" stroke-linecap="round"/>
</g>
</svg>
</body></html>
